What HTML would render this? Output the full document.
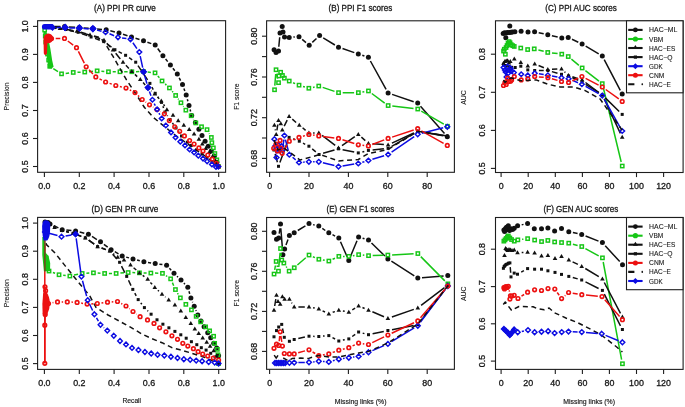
<!DOCTYPE html><html><head><meta charset="utf-8"><style>html,body{margin:0;padding:0;background:#fff;}svg{display:block;will-change:transform;}text{font-family:"Liberation Sans",sans-serif;fill:#151515;stroke:#1a1a1a;stroke-width:0.3px;}</style></head><body>
<svg width="685" height="407" viewBox="0 0 685 407">
<rect width="685" height="407" fill="#fff"/>
<text x="94" y="10.6" font-size="8.6" textLength="61.9" lengthAdjust="spacingAndGlyphs">(A) PPI PR curve</text>
<text x="328.6" y="10.5" font-size="8.6" textLength="63.6" lengthAdjust="spacingAndGlyphs">(B) PPI F1 scores</text>
<text x="545.3" y="10.6" font-size="8.6" textLength="71.5" lengthAdjust="spacingAndGlyphs">(C) PPI AUC scores</text>
<text x="91.6" y="211.7" font-size="8.6" textLength="66.8" lengthAdjust="spacingAndGlyphs">(D) GEN PR curve</text>
<text x="326.5" y="211.7" font-size="8.6" textLength="67.7" lengthAdjust="spacingAndGlyphs">(E) GEN F1 scores</text>
<text x="543.6" y="211.7" font-size="8.6" textLength="74.6" lengthAdjust="spacingAndGlyphs">(F) GEN AUC scores</text>
<text transform="translate(8.7 96.4) rotate(-90)" font-size="6.8" text-anchor="middle" style="stroke-width:0.12px;fill:#222">Precision</text>
<text transform="translate(8.7 293.2) rotate(-90)" font-size="6.8" text-anchor="middle" style="stroke-width:0.12px;fill:#222">Precision</text>
<text transform="translate(238.9 96.6) rotate(-90)" font-size="6.8" text-anchor="middle" style="stroke-width:0.12px;fill:#222">F1 score</text>
<text transform="translate(238.9 293.2) rotate(-90)" font-size="6.8" text-anchor="middle" style="stroke-width:0.12px;fill:#222">F1 score</text>
<text transform="translate(466.2 97.5) rotate(-90)" font-size="6.8" text-anchor="middle" style="stroke-width:0.12px;fill:#222">AUC</text>
<text transform="translate(466.2 293.8) rotate(-90)" font-size="6.8" text-anchor="middle" style="stroke-width:0.12px;fill:#222">AUC</text>
<text x="131.8" y="403.2" font-size="6.7" text-anchor="middle" style="stroke-width:0.15px">Recall</text>
<text x="360.6" y="403.7" font-size="6.9" text-anchor="middle" style="stroke-width:0.15px">Missing links (%)</text>
<text x="589.2" y="403.7" font-size="6.9" text-anchor="middle" style="stroke-width:0.15px">Missing links (%)</text>
<rect x="37.6" y="20.7" width="188" height="151.6" fill="none" stroke="#1e1e1e" stroke-width="1.1"/>
<line x1="44.4" y1="172.3" x2="44.4" y2="176.9" stroke="#1e1e1e" stroke-width="1.1"/>
<text x="44.4" y="188.6" font-size="8.9" text-anchor="middle">0.0</text>
<line x1="79.3" y1="172.3" x2="79.3" y2="176.9" stroke="#1e1e1e" stroke-width="1.1"/>
<text x="79.3" y="188.6" font-size="8.9" text-anchor="middle">0.2</text>
<line x1="114.1" y1="172.3" x2="114.1" y2="176.9" stroke="#1e1e1e" stroke-width="1.1"/>
<text x="114.1" y="188.6" font-size="8.9" text-anchor="middle">0.4</text>
<line x1="149" y1="172.3" x2="149" y2="176.9" stroke="#1e1e1e" stroke-width="1.1"/>
<text x="149" y="188.6" font-size="8.9" text-anchor="middle">0.6</text>
<line x1="183.8" y1="172.3" x2="183.8" y2="176.9" stroke="#1e1e1e" stroke-width="1.1"/>
<text x="183.8" y="188.6" font-size="8.9" text-anchor="middle">0.8</text>
<line x1="218.7" y1="172.3" x2="218.7" y2="176.9" stroke="#1e1e1e" stroke-width="1.1"/>
<text x="218.7" y="188.6" font-size="8.9" text-anchor="middle">1.0</text>
<line x1="33" y1="166.5" x2="37.6" y2="166.5" stroke="#1e1e1e" stroke-width="1.1"/>
<text transform="translate(27.5 166.5) rotate(-90)" font-size="8.9" text-anchor="middle">0.5</text>
<line x1="33" y1="138.5" x2="37.6" y2="138.5" stroke="#1e1e1e" stroke-width="1.1"/>
<text transform="translate(27.5 138.5) rotate(-90)" font-size="8.9" text-anchor="middle">0.6</text>
<line x1="33" y1="110.5" x2="37.6" y2="110.5" stroke="#1e1e1e" stroke-width="1.1"/>
<text transform="translate(27.5 110.5) rotate(-90)" font-size="8.9" text-anchor="middle">0.7</text>
<line x1="33" y1="82.4" x2="37.6" y2="82.4" stroke="#1e1e1e" stroke-width="1.1"/>
<text transform="translate(27.5 82.4) rotate(-90)" font-size="8.9" text-anchor="middle">0.8</text>
<line x1="33" y1="54.4" x2="37.6" y2="54.4" stroke="#1e1e1e" stroke-width="1.1"/>
<text transform="translate(27.5 54.4) rotate(-90)" font-size="8.9" text-anchor="middle">0.9</text>
<line x1="33" y1="26.4" x2="37.6" y2="26.4" stroke="#1e1e1e" stroke-width="1.1"/>
<text transform="translate(27.5 26.4) rotate(-90)" font-size="8.9" text-anchor="middle">1.0</text>
<rect x="37.6" y="217.4" width="188" height="152" fill="none" stroke="#1e1e1e" stroke-width="1.1"/>
<line x1="44.4" y1="369.4" x2="44.4" y2="374" stroke="#1e1e1e" stroke-width="1.1"/>
<text x="44.4" y="385.7" font-size="8.9" text-anchor="middle">0.0</text>
<line x1="79.3" y1="369.4" x2="79.3" y2="374" stroke="#1e1e1e" stroke-width="1.1"/>
<text x="79.3" y="385.7" font-size="8.9" text-anchor="middle">0.2</text>
<line x1="114.1" y1="369.4" x2="114.1" y2="374" stroke="#1e1e1e" stroke-width="1.1"/>
<text x="114.1" y="385.7" font-size="8.9" text-anchor="middle">0.4</text>
<line x1="149" y1="369.4" x2="149" y2="374" stroke="#1e1e1e" stroke-width="1.1"/>
<text x="149" y="385.7" font-size="8.9" text-anchor="middle">0.6</text>
<line x1="183.8" y1="369.4" x2="183.8" y2="374" stroke="#1e1e1e" stroke-width="1.1"/>
<text x="183.8" y="385.7" font-size="8.9" text-anchor="middle">0.8</text>
<line x1="218.7" y1="369.4" x2="218.7" y2="374" stroke="#1e1e1e" stroke-width="1.1"/>
<text x="218.7" y="385.7" font-size="8.9" text-anchor="middle">1.0</text>
<line x1="33" y1="363.6" x2="37.6" y2="363.6" stroke="#1e1e1e" stroke-width="1.1"/>
<text transform="translate(27.5 363.6) rotate(-90)" font-size="8.9" text-anchor="middle">0.5</text>
<line x1="33" y1="335.5" x2="37.6" y2="335.5" stroke="#1e1e1e" stroke-width="1.1"/>
<text transform="translate(27.5 335.5) rotate(-90)" font-size="8.9" text-anchor="middle">0.6</text>
<line x1="33" y1="307.4" x2="37.6" y2="307.4" stroke="#1e1e1e" stroke-width="1.1"/>
<text transform="translate(27.5 307.4) rotate(-90)" font-size="8.9" text-anchor="middle">0.7</text>
<line x1="33" y1="279.3" x2="37.6" y2="279.3" stroke="#1e1e1e" stroke-width="1.1"/>
<text transform="translate(27.5 279.3) rotate(-90)" font-size="8.9" text-anchor="middle">0.8</text>
<line x1="33" y1="251.2" x2="37.6" y2="251.2" stroke="#1e1e1e" stroke-width="1.1"/>
<text transform="translate(27.5 251.2) rotate(-90)" font-size="8.9" text-anchor="middle">0.9</text>
<line x1="33" y1="223.1" x2="37.6" y2="223.1" stroke="#1e1e1e" stroke-width="1.1"/>
<text transform="translate(27.5 223.1) rotate(-90)" font-size="8.9" text-anchor="middle">1.0</text>
<rect x="266.6" y="20.8" width="187.8" height="151.5" fill="none" stroke="#1e1e1e" stroke-width="1.1"/>
<line x1="269.6" y1="172.3" x2="269.6" y2="176.9" stroke="#1e1e1e" stroke-width="1.1"/>
<text x="269.6" y="188.6" font-size="8.9" text-anchor="middle">0</text>
<line x1="309" y1="172.3" x2="309" y2="176.9" stroke="#1e1e1e" stroke-width="1.1"/>
<text x="309" y="188.6" font-size="8.9" text-anchor="middle">20</text>
<line x1="348.4" y1="172.3" x2="348.4" y2="176.9" stroke="#1e1e1e" stroke-width="1.1"/>
<text x="348.4" y="188.6" font-size="8.9" text-anchor="middle">40</text>
<line x1="387.8" y1="172.3" x2="387.8" y2="176.9" stroke="#1e1e1e" stroke-width="1.1"/>
<text x="387.8" y="188.6" font-size="8.9" text-anchor="middle">60</text>
<line x1="427.2" y1="172.3" x2="427.2" y2="176.9" stroke="#1e1e1e" stroke-width="1.1"/>
<text x="427.2" y="188.6" font-size="8.9" text-anchor="middle">80</text>
<line x1="262" y1="158.4" x2="266.6" y2="158.4" stroke="#1e1e1e" stroke-width="1.1"/>
<text transform="translate(256.6 158.4) rotate(-90)" font-size="8.9" text-anchor="middle">0.68</text>
<line x1="262" y1="138" x2="266.6" y2="138" stroke="#1e1e1e" stroke-width="1.1"/>
<line x1="262" y1="117.7" x2="266.6" y2="117.7" stroke="#1e1e1e" stroke-width="1.1"/>
<text transform="translate(256.6 117.7) rotate(-90)" font-size="8.9" text-anchor="middle">0.72</text>
<line x1="262" y1="97.3" x2="266.6" y2="97.3" stroke="#1e1e1e" stroke-width="1.1"/>
<line x1="262" y1="77" x2="266.6" y2="77" stroke="#1e1e1e" stroke-width="1.1"/>
<text transform="translate(256.6 77) rotate(-90)" font-size="8.9" text-anchor="middle">0.76</text>
<line x1="262" y1="56.6" x2="266.6" y2="56.6" stroke="#1e1e1e" stroke-width="1.1"/>
<line x1="262" y1="36.2" x2="266.6" y2="36.2" stroke="#1e1e1e" stroke-width="1.1"/>
<text transform="translate(256.6 36.2) rotate(-90)" font-size="8.9" text-anchor="middle">0.80</text>
<rect x="266.6" y="217.5" width="187.8" height="151.8" fill="none" stroke="#1e1e1e" stroke-width="1.1"/>
<line x1="269.6" y1="369.3" x2="269.6" y2="373.9" stroke="#1e1e1e" stroke-width="1.1"/>
<text x="269.6" y="385.6" font-size="8.9" text-anchor="middle">0</text>
<line x1="309" y1="369.3" x2="309" y2="373.9" stroke="#1e1e1e" stroke-width="1.1"/>
<text x="309" y="385.6" font-size="8.9" text-anchor="middle">20</text>
<line x1="348.4" y1="369.3" x2="348.4" y2="373.9" stroke="#1e1e1e" stroke-width="1.1"/>
<text x="348.4" y="385.6" font-size="8.9" text-anchor="middle">40</text>
<line x1="387.8" y1="369.3" x2="387.8" y2="373.9" stroke="#1e1e1e" stroke-width="1.1"/>
<text x="387.8" y="385.6" font-size="8.9" text-anchor="middle">60</text>
<line x1="427.2" y1="369.3" x2="427.2" y2="373.9" stroke="#1e1e1e" stroke-width="1.1"/>
<text x="427.2" y="385.6" font-size="8.9" text-anchor="middle">80</text>
<line x1="262" y1="351.4" x2="266.6" y2="351.4" stroke="#1e1e1e" stroke-width="1.1"/>
<text transform="translate(256.6 351.4) rotate(-90)" font-size="8.9" text-anchor="middle">0.68</text>
<line x1="262" y1="331.4" x2="266.6" y2="331.4" stroke="#1e1e1e" stroke-width="1.1"/>
<line x1="262" y1="311.4" x2="266.6" y2="311.4" stroke="#1e1e1e" stroke-width="1.1"/>
<text transform="translate(256.6 311.4) rotate(-90)" font-size="8.9" text-anchor="middle">0.72</text>
<line x1="262" y1="291.3" x2="266.6" y2="291.3" stroke="#1e1e1e" stroke-width="1.1"/>
<line x1="262" y1="271.3" x2="266.6" y2="271.3" stroke="#1e1e1e" stroke-width="1.1"/>
<text transform="translate(256.6 271.3) rotate(-90)" font-size="8.9" text-anchor="middle">0.76</text>
<line x1="262" y1="251.3" x2="266.6" y2="251.3" stroke="#1e1e1e" stroke-width="1.1"/>
<line x1="262" y1="231.3" x2="266.6" y2="231.3" stroke="#1e1e1e" stroke-width="1.1"/>
<text transform="translate(256.6 231.3) rotate(-90)" font-size="8.9" text-anchor="middle">0.80</text>
<rect x="495.5" y="20.8" width="187.6" height="151.7" fill="none" stroke="#1e1e1e" stroke-width="1.1"/>
<line x1="501.1" y1="172.5" x2="501.1" y2="177.1" stroke="#1e1e1e" stroke-width="1.1"/>
<text x="501.1" y="188.8" font-size="8.9" text-anchor="middle">0</text>
<line x1="528.2" y1="172.5" x2="528.2" y2="177.1" stroke="#1e1e1e" stroke-width="1.1"/>
<text x="528.2" y="188.8" font-size="8.9" text-anchor="middle">20</text>
<line x1="555.3" y1="172.5" x2="555.3" y2="177.1" stroke="#1e1e1e" stroke-width="1.1"/>
<text x="555.3" y="188.8" font-size="8.9" text-anchor="middle">40</text>
<line x1="582.4" y1="172.5" x2="582.4" y2="177.1" stroke="#1e1e1e" stroke-width="1.1"/>
<text x="582.4" y="188.8" font-size="8.9" text-anchor="middle">60</text>
<line x1="609.4" y1="172.5" x2="609.4" y2="177.1" stroke="#1e1e1e" stroke-width="1.1"/>
<text x="609.4" y="188.8" font-size="8.9" text-anchor="middle">80</text>
<line x1="636.5" y1="172.5" x2="636.5" y2="177.1" stroke="#1e1e1e" stroke-width="1.1"/>
<text x="636.5" y="188.8" font-size="8.9" text-anchor="middle">100</text>
<line x1="663.6" y1="172.5" x2="663.6" y2="177.1" stroke="#1e1e1e" stroke-width="1.1"/>
<text x="663.6" y="188.8" font-size="8.9" text-anchor="middle">120</text>
<line x1="490.9" y1="168.4" x2="495.5" y2="168.4" stroke="#1e1e1e" stroke-width="1.1"/>
<text transform="translate(484.5 168.4) rotate(-90)" font-size="8.9" text-anchor="middle">0.5</text>
<line x1="490.9" y1="130.4" x2="495.5" y2="130.4" stroke="#1e1e1e" stroke-width="1.1"/>
<text transform="translate(484.5 130.4) rotate(-90)" font-size="8.9" text-anchor="middle">0.6</text>
<line x1="490.9" y1="92.3" x2="495.5" y2="92.3" stroke="#1e1e1e" stroke-width="1.1"/>
<text transform="translate(484.5 92.3) rotate(-90)" font-size="8.9" text-anchor="middle">0.7</text>
<line x1="490.9" y1="54.2" x2="495.5" y2="54.2" stroke="#1e1e1e" stroke-width="1.1"/>
<text transform="translate(484.5 54.2) rotate(-90)" font-size="8.9" text-anchor="middle">0.8</text>
<rect x="495.5" y="217.5" width="187.6" height="151.9" fill="none" stroke="#1e1e1e" stroke-width="1.1"/>
<line x1="501.1" y1="369.4" x2="501.1" y2="374" stroke="#1e1e1e" stroke-width="1.1"/>
<text x="501.1" y="385.7" font-size="8.9" text-anchor="middle">0</text>
<line x1="528.2" y1="369.4" x2="528.2" y2="374" stroke="#1e1e1e" stroke-width="1.1"/>
<text x="528.2" y="385.7" font-size="8.9" text-anchor="middle">20</text>
<line x1="555.3" y1="369.4" x2="555.3" y2="374" stroke="#1e1e1e" stroke-width="1.1"/>
<text x="555.3" y="385.7" font-size="8.9" text-anchor="middle">40</text>
<line x1="582.4" y1="369.4" x2="582.4" y2="374" stroke="#1e1e1e" stroke-width="1.1"/>
<text x="582.4" y="385.7" font-size="8.9" text-anchor="middle">60</text>
<line x1="609.4" y1="369.4" x2="609.4" y2="374" stroke="#1e1e1e" stroke-width="1.1"/>
<text x="609.4" y="385.7" font-size="8.9" text-anchor="middle">80</text>
<line x1="636.5" y1="369.4" x2="636.5" y2="374" stroke="#1e1e1e" stroke-width="1.1"/>
<text x="636.5" y="385.7" font-size="8.9" text-anchor="middle">100</text>
<line x1="663.6" y1="369.4" x2="663.6" y2="374" stroke="#1e1e1e" stroke-width="1.1"/>
<text x="663.6" y="385.7" font-size="8.9" text-anchor="middle">120</text>
<line x1="490.9" y1="361.1" x2="495.5" y2="361.1" stroke="#1e1e1e" stroke-width="1.1"/>
<text transform="translate(484.5 361.1) rotate(-90)" font-size="8.9" text-anchor="middle">0.5</text>
<line x1="490.9" y1="323.8" x2="495.5" y2="323.8" stroke="#1e1e1e" stroke-width="1.1"/>
<text transform="translate(484.5 323.8) rotate(-90)" font-size="8.9" text-anchor="middle">0.6</text>
<line x1="490.9" y1="286.6" x2="495.5" y2="286.6" stroke="#1e1e1e" stroke-width="1.1"/>
<text transform="translate(484.5 286.6) rotate(-90)" font-size="8.9" text-anchor="middle">0.7</text>
<line x1="490.9" y1="249.2" x2="495.5" y2="249.2" stroke="#1e1e1e" stroke-width="1.1"/>
<text transform="translate(484.5 249.2) rotate(-90)" font-size="8.9" text-anchor="middle">0.8</text>
<path d="M54.2 26.5L60.4 26.5M68.8 26.9L75.1 27.3M83.5 27.9L88.7 28.2M97.1 28.9L102 29.4M110.3 30.8L114.9 31.9M123 34.2L127.5 35.8M135.5 38.3L139.5 39.5M147.4 42.2L151.3 43.6M157.7 48.5L160.4 52.3M165.6 59L167.7 61.6M172.9 68.2L174.8 70.7M179.2 77.8L180.6 80.6M183.9 88.4L184.8 91.1M187.3 99.2L187.9 101.3M190.1 109.5L190.6 111.5" fill="none" stroke="#111" stroke-width="1.5"/>
<circle cx="50" cy="26.4" r="2.5" fill="#111"/>
<circle cx="64.6" cy="26.6" r="2.5" fill="#111"/>
<circle cx="79.3" cy="27.6" r="2.5" fill="#111"/>
<circle cx="92.9" cy="28.5" r="2.5" fill="#111"/>
<circle cx="106.2" cy="29.8" r="2.5" fill="#111"/>
<circle cx="119" cy="32.9" r="2.5" fill="#111"/>
<circle cx="131.5" cy="37.1" r="2.5" fill="#111"/>
<circle cx="143.5" cy="40.7" r="2.5" fill="#111"/>
<circle cx="155.2" cy="45.1" r="2.5" fill="#111"/>
<circle cx="162.9" cy="55.7" r="2.5" fill="#111"/>
<circle cx="170.4" cy="64.9" r="2.5" fill="#111"/>
<circle cx="177.3" cy="74" r="2.5" fill="#111"/>
<circle cx="182.5" cy="84.4" r="2.5" fill="#111"/>
<circle cx="186.2" cy="95.1" r="2.5" fill="#111"/>
<circle cx="189" cy="105.4" r="2.5" fill="#111"/>
<circle cx="191.7" cy="115.6" r="2.5" fill="#111"/>
<circle cx="195.4" cy="122.6" r="2.5" fill="#111"/>
<circle cx="198.9" cy="129.3" r="2.5" fill="#111"/>
<circle cx="202" cy="135.5" r="2.5" fill="#111"/>
<circle cx="205.1" cy="141.2" r="2.5" fill="#111"/>
<circle cx="208.2" cy="146.2" r="2.5" fill="#111"/>
<circle cx="211.3" cy="151" r="2.5" fill="#111"/>
<circle cx="214.4" cy="156.1" r="2.5" fill="#111"/>
<circle cx="216.9" cy="162.3" r="2.5" fill="#111"/>
<circle cx="218.4" cy="166.5" r="2.5" fill="#111"/>
<path d="M53.3 68.6L58 71.6M65.7 73.4L69.1 72.9M77.5 72.3L80.6 72.2M89 71.7L93 71.3M101.4 71.2L104.3 71.5M112.7 71.8L115.8 71.8M124.2 71.8L127.6 71.8M136 71.7L139.3 71.6M147.7 72L150.9 72.4M157.8 76.1L159.4 77.8M165.2 83.9L166.4 85.1M172.2 91.2L173 92.2M178.1 98.8L178.6 99.4M183.3 106.3L183.6 106.7M193.5 119.3L193.5 119.5M209.1 133.4L209.3 133.8" fill="none" stroke="#16c616" stroke-width="1.5"/>
<rect x="43" y="28.4" width="3.3" height="3.3" fill="none" stroke="#16c616" stroke-width="1.45"/>
<rect x="43.6" y="34.4" width="3.3" height="3.3" fill="none" stroke="#16c616" stroke-width="1.45"/>
<rect x="44.1" y="40.4" width="3.3" height="3.3" fill="none" stroke="#16c616" stroke-width="1.45"/>
<rect x="45" y="46.4" width="3.3" height="3.3" fill="none" stroke="#16c616" stroke-width="1.45"/>
<rect x="45.9" y="52.4" width="3.3" height="3.3" fill="none" stroke="#16c616" stroke-width="1.45"/>
<rect x="47" y="58.4" width="3.3" height="3.3" fill="none" stroke="#16c616" stroke-width="1.45"/>
<rect x="48.1" y="64.6" width="3.3" height="3.3" fill="none" stroke="#16c616" stroke-width="1.45"/>
<rect x="59.9" y="72.2" width="3.3" height="3.3" fill="none" stroke="#16c616" stroke-width="1.45"/>
<rect x="71.6" y="70.8" width="3.3" height="3.3" fill="none" stroke="#16c616" stroke-width="1.45"/>
<rect x="83.1" y="70.4" width="3.3" height="3.3" fill="none" stroke="#16c616" stroke-width="1.45"/>
<rect x="95.5" y="69.2" width="3.3" height="3.3" fill="none" stroke="#16c616" stroke-width="1.45"/>
<rect x="106.8" y="70.1" width="3.3" height="3.3" fill="none" stroke="#16c616" stroke-width="1.45"/>
<rect x="118.3" y="70.1" width="3.3" height="3.3" fill="none" stroke="#16c616" stroke-width="1.45"/>
<rect x="130.2" y="70.1" width="3.3" height="3.3" fill="none" stroke="#16c616" stroke-width="1.45"/>
<rect x="141.8" y="69.8" width="3.3" height="3.3" fill="none" stroke="#16c616" stroke-width="1.45"/>
<rect x="153.4" y="71.2" width="3.3" height="3.3" fill="none" stroke="#16c616" stroke-width="1.45"/>
<rect x="160.4" y="79.3" width="3.3" height="3.3" fill="none" stroke="#16c616" stroke-width="1.45"/>
<rect x="167.8" y="86.3" width="3.3" height="3.3" fill="none" stroke="#16c616" stroke-width="1.45"/>
<rect x="174" y="93.8" width="3.3" height="3.3" fill="none" stroke="#16c616" stroke-width="1.45"/>
<rect x="179.3" y="101.1" width="3.3" height="3.3" fill="none" stroke="#16c616" stroke-width="1.45"/>
<rect x="184.2" y="108.5" width="3.3" height="3.3" fill="none" stroke="#16c616" stroke-width="1.45"/>
<rect x="189.5" y="114.1" width="3.3" height="3.3" fill="none" stroke="#16c616" stroke-width="1.45"/>
<rect x="194.2" y="121.3" width="3.3" height="3.3" fill="none" stroke="#16c616" stroke-width="1.45"/>
<rect x="199.9" y="125.1" width="3.3" height="3.3" fill="none" stroke="#16c616" stroke-width="1.45"/>
<rect x="205.4" y="128" width="3.3" height="3.3" fill="none" stroke="#16c616" stroke-width="1.45"/>
<rect x="209.7" y="135.8" width="3.3" height="3.3" fill="none" stroke="#16c616" stroke-width="1.45"/>
<rect x="210.2" y="141" width="3.3" height="3.3" fill="none" stroke="#16c616" stroke-width="1.45"/>
<rect x="211.7" y="146.2" width="3.3" height="3.3" fill="none" stroke="#16c616" stroke-width="1.45"/>
<rect x="213.2" y="151.9" width="3.3" height="3.3" fill="none" stroke="#16c616" stroke-width="1.45"/>
<rect x="215.2" y="158.2" width="3.3" height="3.3" fill="none" stroke="#16c616" stroke-width="1.45"/>
<rect x="216.8" y="164.8" width="3.3" height="3.3" fill="none" stroke="#16c616" stroke-width="1.45"/>
<path d="M64.2 29.1L72.7 30.5M80.9 32.3L86 33.8M93.9 36.4L100.1 38.7M106.8 43.2L110.2 46.9M115.7 53.2L120.3 59M125.9 65.3L128.9 68.4M134.9 74.4L137.2 76.6M143.1 82.6L145.2 84.9M151.2 90.8L151.6 91.1M157.7 97L158.4 97.8M163.6 104.4L164.6 106.1" fill="none" stroke="#111" stroke-width="1.5"/>
<path d="M52 24.6L54.3 28.6L49.7 28.6Z" fill="#111"/>
<path d="M60 26.1L62.3 30.1L57.7 30.1Z" fill="#111"/>
<path d="M76.9 28.7L79.2 32.7L74.6 32.7Z" fill="#111"/>
<path d="M90 32.6L92.3 36.6L87.7 36.6Z" fill="#111"/>
<path d="M104 37.7L106.3 41.7L101.7 41.7Z" fill="#111"/>
<path d="M113 47.6L115.3 51.6L110.7 51.6Z" fill="#111"/>
<path d="M123 59.8L125.3 63.8L120.7 63.8Z" fill="#111"/>
<path d="M131.8 69.1L134.1 73.1L129.5 73.1Z" fill="#111"/>
<path d="M140.3 77.1L142.6 81.1L138 81.1Z" fill="#111"/>
<path d="M148 85.6L150.3 89.6L145.7 89.6Z" fill="#111"/>
<path d="M154.8 91.5L157.1 95.5L152.5 95.5Z" fill="#111"/>
<path d="M161.3 98.5L163.6 102.5L159 102.5Z" fill="#111"/>
<path d="M166.9 107.2L169.2 111.2L164.6 111.2Z" fill="#111"/>
<path d="M173 112.8L175.3 116.8L170.7 116.8Z" fill="#111"/>
<path d="M178.2 118.2L180.5 122.2L175.9 122.2Z" fill="#111"/>
<path d="M183.8 122.7L186.1 126.7L181.5 126.7Z" fill="#111"/>
<path d="M189.2 126.9L191.5 130.9L186.9 130.9Z" fill="#111"/>
<path d="M194.1 131.4L196.4 135.4L191.8 135.4Z" fill="#111"/>
<path d="M198.9 136.8L201.2 140.8L196.6 140.8Z" fill="#111"/>
<path d="M202.3 141.4L204.6 145.4L200 145.4Z" fill="#111"/>
<path d="M205.7 145.9L208 149.9L203.4 149.9Z" fill="#111"/>
<path d="M209.2 150.1L211.5 154.1L206.9 154.1Z" fill="#111"/>
<path d="M212.5 154.1L214.8 158.1L210.2 158.1Z" fill="#111"/>
<path d="M215.5 158.6L217.8 162.6L213.2 162.6Z" fill="#111"/>
<path d="M218.4 164.1L220.7 168.1L216.1 168.1Z" fill="#111"/>
<path d="M58.8 28.3L61.9 28.8M70.1 30.4L74 31.4M82 33.7L87.2 35.6M95 38.4L99.8 40.2M107.1 44.1L111.5 47.2M118.6 51.6L121.9 53.4M129.1 57.7L132.2 59.8M138 65.7L147.6 79.9M151.9 87.1L153.2 89.6M157.6 96.8L159.1 98.9M162.9 106.3L163.6 108.1M167.3 115.5L167.7 116M172.4 122.9L173.6 124.6M178.4 131.5L179.1 132.5M184.4 139L184.5 139.2" fill="none" stroke="#111" stroke-width="1.5"/>
<rect x="53.2" y="26.1" width="3" height="3" fill="#111"/>
<rect x="64.5" y="28" width="3" height="3" fill="#111"/>
<rect x="76.6" y="30.8" width="3" height="3" fill="#111"/>
<rect x="89.6" y="35.5" width="3" height="3" fill="#111"/>
<rect x="102.2" y="40.1" width="3" height="3" fill="#111"/>
<rect x="113.4" y="48.2" width="3" height="3" fill="#111"/>
<rect x="124.1" y="53.8" width="3" height="3" fill="#111"/>
<rect x="134.2" y="60.7" width="3" height="3" fill="#111"/>
<rect x="148.4" y="81.9" width="3" height="3" fill="#111"/>
<rect x="153.7" y="91.8" width="3" height="3" fill="#111"/>
<rect x="160" y="100.9" width="3" height="3" fill="#111"/>
<rect x="163.5" y="110.5" width="3" height="3" fill="#111"/>
<rect x="168.5" y="118" width="3" height="3" fill="#111"/>
<rect x="174.5" y="126.5" width="3" height="3" fill="#111"/>
<rect x="180" y="134.5" width="3" height="3" fill="#111"/>
<rect x="185.9" y="140.7" width="3" height="3" fill="#111"/>
<rect x="189.7" y="143.9" width="3" height="3" fill="#111"/>
<rect x="195.1" y="148.4" width="3" height="3" fill="#111"/>
<rect x="200.5" y="152.5" width="3" height="3" fill="#111"/>
<rect x="205.5" y="156.5" width="3" height="3" fill="#111"/>
<rect x="210.5" y="160.5" width="3" height="3" fill="#111"/>
<rect x="216.9" y="165" width="3" height="3" fill="#111"/>
<path d="M52 27L60 28.5L80 32.5L92 35.5L100 37.5L104.4 42.4L113.2 56.7L126.5 79.9L135.3 93L144.5 107.5L153.7 117.7L165 127L175 135L185 142L195 149L205 156L212 161L218.4 166.5" fill="none" stroke="#111" stroke-width="1.5" stroke-dasharray="5 3.6" stroke-linejoin="round"/>
<path d="M55.7 38.5L60.3 38.4M67.8 41L73.2 45.1M78.4 51.4L84.3 63.1M89.1 69.8L92.9 73.9M99.5 78.8L101.9 80.1M109.6 83.4L111.8 84.1M119.9 86.5L121.9 87.1M129.8 90L131.2 90.7M138 95.5L139.2 96.6M145.6 102L146.1 102.3M153.1 107L153.4 107.3M160.6 111.6L160.8 111.7" fill="none" stroke="#ec1010" stroke-width="1.5"/>
<circle cx="51.5" cy="38.5" r="1.8" fill="none" stroke="#ec1010" stroke-width="1.6"/>
<circle cx="64.5" cy="38.4" r="1.8" fill="none" stroke="#ec1010" stroke-width="1.6"/>
<circle cx="76.5" cy="47.7" r="1.8" fill="none" stroke="#ec1010" stroke-width="1.6"/>
<circle cx="86.2" cy="66.8" r="1.8" fill="none" stroke="#ec1010" stroke-width="1.6"/>
<circle cx="95.8" cy="76.9" r="1.8" fill="none" stroke="#ec1010" stroke-width="1.6"/>
<circle cx="105.6" cy="82" r="1.8" fill="none" stroke="#ec1010" stroke-width="1.6"/>
<circle cx="115.8" cy="85.5" r="1.8" fill="none" stroke="#ec1010" stroke-width="1.6"/>
<circle cx="126" cy="88.1" r="1.8" fill="none" stroke="#ec1010" stroke-width="1.6"/>
<circle cx="135" cy="92.6" r="1.8" fill="none" stroke="#ec1010" stroke-width="1.6"/>
<circle cx="142.2" cy="99.5" r="1.8" fill="none" stroke="#ec1010" stroke-width="1.6"/>
<circle cx="149.5" cy="104.8" r="1.8" fill="none" stroke="#ec1010" stroke-width="1.6"/>
<circle cx="157" cy="109.5" r="1.8" fill="none" stroke="#ec1010" stroke-width="1.6"/>
<circle cx="164.4" cy="113.8" r="1.8" fill="none" stroke="#ec1010" stroke-width="1.6"/>
<circle cx="169.3" cy="120.6" r="1.8" fill="none" stroke="#ec1010" stroke-width="1.6"/>
<circle cx="174.7" cy="126.8" r="1.8" fill="none" stroke="#ec1010" stroke-width="1.6"/>
<circle cx="179.7" cy="131.3" r="1.8" fill="none" stroke="#ec1010" stroke-width="1.6"/>
<circle cx="184.4" cy="135.9" r="1.8" fill="none" stroke="#ec1010" stroke-width="1.6"/>
<circle cx="189.6" cy="140.6" r="1.8" fill="none" stroke="#ec1010" stroke-width="1.6"/>
<circle cx="194.1" cy="144.1" r="1.8" fill="none" stroke="#ec1010" stroke-width="1.6"/>
<circle cx="198.9" cy="147.9" r="1.8" fill="none" stroke="#ec1010" stroke-width="1.6"/>
<circle cx="203" cy="151" r="1.8" fill="none" stroke="#ec1010" stroke-width="1.6"/>
<circle cx="207.8" cy="155.1" r="1.8" fill="none" stroke="#ec1010" stroke-width="1.6"/>
<circle cx="212.3" cy="159.2" r="1.8" fill="none" stroke="#ec1010" stroke-width="1.6"/>
<circle cx="216.4" cy="163.3" r="1.8" fill="none" stroke="#ec1010" stroke-width="1.6"/>
<circle cx="218.4" cy="166.5" r="1.8" fill="none" stroke="#ec1010" stroke-width="1.6"/>
<path d="M65.1 27.4L79.4 27.9L92.9 28.6" fill="none" stroke="#0c0ce2" stroke-width="0" stroke-linejoin="round"/>
<path d="M65.1 24.6L67.9 27.4L65.1 30.2L62.3 27.4Z" fill="#0c0ce2" stroke="#0c0ce2" stroke-width="1.45"/>
<path d="M79.4 25.1L82.2 27.9L79.4 30.7L76.6 27.9Z" fill="#0c0ce2" stroke="#0c0ce2" stroke-width="1.45"/>
<path d="M92.9 25.8L95.7 28.6L92.9 31.4L90.1 28.6Z" fill="#0c0ce2" stroke="#0c0ce2" stroke-width="1.45"/>
<path d="M143.6 71.8L148 87.6" fill="none" stroke="#0c0ce2" stroke-width="0" stroke-linejoin="round"/>
<path d="M143.6 69.2L146.2 71.8L143.6 74.4L141 71.8Z" fill="#0c0ce2" stroke="#0c0ce2" stroke-width="1.45"/>
<path d="M148 85L150.6 87.6L148 90.2L145.4 87.6Z" fill="#0c0ce2" stroke="#0c0ce2" stroke-width="1.45"/>
<path d="M56.7 27.6L60.9 27.6M69.3 27.9L75.2 28.1M83.6 28.5L88.7 28.9M97 30.1L101.5 31.3M109.5 33.8L114.1 35.7M122.1 37.9L126.4 38.6M132.9 42.8L136.9 48.6M140.2 56.2L142.7 67.7M144.7 75.8L146.9 83.6M149.4 91.6L151 95.8M154.2 103.6L155.3 105.6M159 113.1L159.8 114.8M168.3 128.9L168.5 129" fill="none" stroke="#0c0ce2" stroke-width="1.5"/>
<path d="M52.5 25.1L54.9 27.5L52.5 29.9L50.1 27.5Z" fill="none" stroke="#0c0ce2" stroke-width="1.45"/>
<path d="M65.1 25.3L67.4 27.7L65.1 30.1L62.7 27.7Z" fill="none" stroke="#0c0ce2" stroke-width="1.45"/>
<path d="M79.4 25.9L81.8 28.3L79.4 30.7L77.1 28.3Z" fill="none" stroke="#0c0ce2" stroke-width="1.45"/>
<path d="M92.9 26.8L95.2 29.1L92.9 31.5L90.6 29.1Z" fill="none" stroke="#0c0ce2" stroke-width="1.45"/>
<path d="M105.6 29.9L107.9 32.3L105.6 34.6L103.2 32.3Z" fill="none" stroke="#0c0ce2" stroke-width="1.45"/>
<path d="M118 34.9L120.3 37.2L118 39.6L115.7 37.2Z" fill="none" stroke="#0c0ce2" stroke-width="1.45"/>
<path d="M130.5 36.9L132.8 39.3L130.5 41.6L128.2 39.3Z" fill="none" stroke="#0c0ce2" stroke-width="1.45"/>
<path d="M139.3 49.8L141.7 52.1L139.3 54.5L137 52.1Z" fill="none" stroke="#0c0ce2" stroke-width="1.45"/>
<path d="M143.6 69.5L145.9 71.8L143.6 74.1L141.2 71.8Z" fill="none" stroke="#0c0ce2" stroke-width="1.45"/>
<path d="M148 85.2L150.3 87.6L148 89.9L145.7 87.6Z" fill="none" stroke="#0c0ce2" stroke-width="1.45"/>
<path d="M152.4 97.5L154.8 99.8L152.4 102.1L150.1 99.8Z" fill="none" stroke="#0c0ce2" stroke-width="1.45"/>
<path d="M157.1 107.1L159.4 109.4L157.1 111.8L154.8 109.4Z" fill="none" stroke="#0c0ce2" stroke-width="1.45"/>
<path d="M161.7 116.2L164 118.5L161.7 120.8L159.3 118.5Z" fill="none" stroke="#0c0ce2" stroke-width="1.45"/>
<path d="M165.8 123.2L168.2 125.5L165.8 127.8L163.5 125.5Z" fill="none" stroke="#0c0ce2" stroke-width="1.45"/>
<path d="M171 130.1L173.3 132.4L171 134.8L168.7 132.4Z" fill="none" stroke="#0c0ce2" stroke-width="1.45"/>
<path d="M175.5 135.2L177.8 137.5L175.5 139.8L173.2 137.5Z" fill="none" stroke="#0c0ce2" stroke-width="1.45"/>
<path d="M180.3 139.3L182.7 141.7L180.3 144L178 141.7Z" fill="none" stroke="#0c0ce2" stroke-width="1.45"/>
<path d="M185 143.1L187.3 145.4L185 147.8L182.7 145.4Z" fill="none" stroke="#0c0ce2" stroke-width="1.45"/>
<path d="M189.6 147.2L191.9 149.5L189.6 151.8L187.2 149.5Z" fill="none" stroke="#0c0ce2" stroke-width="1.45"/>
<path d="M194.1 150.1L196.4 152.4L194.1 154.8L191.8 152.4Z" fill="none" stroke="#0c0ce2" stroke-width="1.45"/>
<path d="M198.3 153.3L200.7 155.7L198.3 158L196 155.7Z" fill="none" stroke="#0c0ce2" stroke-width="1.45"/>
<path d="M203 156.2L205.3 158.6L203 160.9L200.7 158.6Z" fill="none" stroke="#0c0ce2" stroke-width="1.45"/>
<path d="M207.1 159L209.4 161.3L207.1 163.7L204.8 161.3Z" fill="none" stroke="#0c0ce2" stroke-width="1.45"/>
<path d="M211.9 162.1L214.2 164.4L211.9 166.8L209.6 164.4Z" fill="none" stroke="#0c0ce2" stroke-width="1.45"/>
<path d="M216 164.6L218.3 166.9L216 169.2L213.7 166.9Z" fill="none" stroke="#0c0ce2" stroke-width="1.45"/>
<path d="M218.4 164.2L220.8 166.6L218.4 168.9L216.1 166.6Z" fill="none" stroke="#0c0ce2" stroke-width="1.45"/>
<path d="M43.4 31L46.2 31L48.6 40L50.3 48.3L52.2 60.6L53.6 66.8L51.5 68.6L48.3 68.2L47.3 60L46 50L44.6 42L43.4 35Z" fill="#16c616"/>
<path d="M48.4 33.6A4.8 4.8 0 1 1 48.39 33.6ZM43.5 38L47.6 38L47 53.5Q45.4 56.8 43.8 53.5Z" fill="#ec1010"/>
<path d="M44.5 23.9L51.5 23.9Q53.9 23.9 53.9 26.6L53.9 28.3Q53.6 30.2 51.5 29.6L44.5 29.6Q41.9 29.6 41.9 26.8Q41.9 23.9 44.5 23.9Z" fill="#0c0ce2"/>
<path d="M278.8 46.8L279.7 37.2M293.4 37.1L294.8 37M302.2 39.4L306 42.6M312.3 42.4L316.5 38.5M323.2 37.8L334.9 45M342.5 48.5L354.3 52.6M362.3 55.2L364.4 56M370.4 61L386.1 89.3M392.1 94.4L413.7 101.7M420.5 106.3L444.5 133.5" fill="none" stroke="#111" stroke-width="1.5"/>
<circle cx="274.1" cy="49.7" r="2.5" fill="#111"/>
<circle cx="276" cy="52.4" r="2.5" fill="#111"/>
<circle cx="278.5" cy="51" r="2.5" fill="#111"/>
<circle cx="280" cy="33" r="2.5" fill="#111"/>
<circle cx="282.2" cy="26.4" r="2.5" fill="#111"/>
<circle cx="283" cy="32" r="2.5" fill="#111"/>
<circle cx="284.5" cy="37.1" r="2.5" fill="#111"/>
<circle cx="289.2" cy="37.4" r="2.5" fill="#111"/>
<circle cx="299" cy="36.7" r="2.5" fill="#111"/>
<circle cx="309.2" cy="45.3" r="2.5" fill="#111"/>
<circle cx="319.6" cy="35.6" r="2.5" fill="#111"/>
<circle cx="338.5" cy="47.2" r="2.5" fill="#111"/>
<circle cx="358.3" cy="53.9" r="2.5" fill="#111"/>
<circle cx="368.4" cy="57.3" r="2.5" fill="#111"/>
<circle cx="388.1" cy="93" r="2.5" fill="#111"/>
<circle cx="417.7" cy="103.1" r="2.5" fill="#111"/>
<circle cx="447.3" cy="136.7" r="2.5" fill="#111"/>
<path d="M274.8 85.6L275.7 74M276.8 73.9L277.7 78.6M293.1 82.7L295.1 83.6M303 86.5L304.9 87M313 87.4L314.6 87M322.7 87.4L334.5 91.4M342.7 92.7L354.1 92.7M362.4 92L364.3 91.7M371.8 93.5L384.7 103.1M392.3 106.1L413.5 108.6M421.3 111.2L443.8 124.2" fill="none" stroke="#16c616" stroke-width="1.5"/>
<rect x="272.9" y="88.1" width="3.3" height="3.3" fill="none" stroke="#16c616" stroke-width="1.45"/>
<rect x="274.4" y="68.1" width="3.3" height="3.3" fill="none" stroke="#16c616" stroke-width="1.45"/>
<rect x="276.9" y="81" width="3.3" height="3.3" fill="none" stroke="#16c616" stroke-width="1.45"/>
<rect x="277.2" y="74.3" width="3.3" height="3.3" fill="none" stroke="#16c616" stroke-width="1.45"/>
<rect x="279" y="70.6" width="3.3" height="3.3" fill="none" stroke="#16c616" stroke-width="1.45"/>
<rect x="280.8" y="73.8" width="3.3" height="3.3" fill="none" stroke="#16c616" stroke-width="1.45"/>
<rect x="282.7" y="76.5" width="3.3" height="3.3" fill="none" stroke="#16c616" stroke-width="1.45"/>
<rect x="287.6" y="79.4" width="3.3" height="3.3" fill="none" stroke="#16c616" stroke-width="1.45"/>
<rect x="297.4" y="83.5" width="3.3" height="3.3" fill="none" stroke="#16c616" stroke-width="1.45"/>
<rect x="307.2" y="86.6" width="3.3" height="3.3" fill="none" stroke="#16c616" stroke-width="1.45"/>
<rect x="317.1" y="84.4" width="3.3" height="3.3" fill="none" stroke="#16c616" stroke-width="1.45"/>
<rect x="336.9" y="91" width="3.3" height="3.3" fill="none" stroke="#16c616" stroke-width="1.45"/>
<rect x="356.7" y="91" width="3.3" height="3.3" fill="none" stroke="#16c616" stroke-width="1.45"/>
<rect x="366.8" y="89.3" width="3.3" height="3.3" fill="none" stroke="#16c616" stroke-width="1.45"/>
<rect x="386.5" y="103.9" width="3.3" height="3.3" fill="none" stroke="#16c616" stroke-width="1.45"/>
<rect x="416.1" y="107.4" width="3.3" height="3.3" fill="none" stroke="#16c616" stroke-width="1.45"/>
<rect x="445.8" y="124.6" width="3.3" height="3.3" fill="none" stroke="#16c616" stroke-width="1.45"/>
<path d="M275.2 129.3L275.4 130.3M276.9 130.3L277.8 124.5M284.2 126.1L287.2 120.1M292.3 119.1L296.1 122.5M302.6 127.8L305.6 130.4M313.1 132.9L314.6 132.9M322.1 135.4L335.2 145.4M342 145.6L354.8 136.7M361.4 137.1L365.3 140.6M372.6 143.7L383.9 144.5M391.9 143.1L413.9 133M421.8 132L443.2 135.8" fill="none" stroke="#111" stroke-width="1.5"/>
<path d="M274.4 122.8L276.7 126.8L272.1 126.8Z" fill="#111"/>
<path d="M276.2 132L278.5 136L273.9 136Z" fill="#111"/>
<path d="M278.5 118L280.8 122L276.2 122Z" fill="#111"/>
<path d="M280.8 121.3L283.1 125.3L278.5 125.3Z" fill="#111"/>
<path d="M282.3 127.4L284.6 131.4L280 131.4Z" fill="#111"/>
<path d="M289.1 114L291.4 118L286.8 118Z" fill="#111"/>
<path d="M299.3 122.8L301.6 126.8L297 126.8Z" fill="#111"/>
<path d="M308.9 130.6L311.2 134.6L306.6 134.6Z" fill="#111"/>
<path d="M318.8 130.4L321.1 134.4L316.5 134.4Z" fill="#111"/>
<path d="M338.5 145.6L340.8 149.6L336.2 149.6Z" fill="#111"/>
<path d="M358.3 131.9L360.6 135.9L356 135.9Z" fill="#111"/>
<path d="M368.4 141L370.7 145L366.1 145Z" fill="#111"/>
<path d="M388.1 142.4L390.4 146.4L385.8 146.4Z" fill="#111"/>
<path d="M417.7 128.9L420 132.9L415.4 132.9Z" fill="#111"/>
<path d="M447.3 134.1L449.6 138.1L445 138.1Z" fill="#111"/>
<path d="M275.1 154L277.4 162.3M279.9 162.4L287.7 141.3M293 138.9L295.4 139.7M303 143.1L305.2 144.3M312.2 148.9L315.8 151.8M323.1 153.3L334.5 150M342.6 149.7L354.2 152M362.4 151.9L364.3 151.4M372.6 150L383.9 148.8M391.7 146.3L414.1 133.4M421.8 132L443.2 135.3" fill="none" stroke="#111" stroke-width="1.5"/>
<rect x="272.5" y="148.5" width="3" height="3" fill="#111"/>
<rect x="277" y="164.8" width="3" height="3" fill="#111"/>
<rect x="287.6" y="135.9" width="3" height="3" fill="#111"/>
<rect x="297.8" y="139.7" width="3" height="3" fill="#111"/>
<rect x="307.4" y="144.7" width="3" height="3" fill="#111"/>
<rect x="317.6" y="153" width="3" height="3" fill="#111"/>
<rect x="337" y="147.3" width="3" height="3" fill="#111"/>
<rect x="356.8" y="151.4" width="3" height="3" fill="#111"/>
<rect x="366.9" y="148.9" width="3" height="3" fill="#111"/>
<rect x="386.6" y="146.9" width="3" height="3" fill="#111"/>
<rect x="416.2" y="129.8" width="3" height="3" fill="#111"/>
<rect x="445.8" y="134.5" width="3" height="3" fill="#111"/>
<path d="M275.7 150.2L276.1 153.3M276.7 153.3L276.8 152.7M283 145.8L283.9 139.7M285.4 139.6L288.3 150.6M292.6 157.3L295.7 159.9M303.2 162.2L304.7 162.1M313.1 161.8L314.6 161.8M322.9 162.8L334.4 165.6M342.6 166L354.2 164.1M362.3 162.3L364.4 161.7M372.4 159.3L384.1 155.7M391.6 152.1L414.2 136.7M421.8 133.3L443.2 127.7" fill="none" stroke="#0c0ce2" stroke-width="1.5"/>
<path d="M274.4 136.8L276.8 139.2L274.4 141.5L272 139.2Z" fill="none" stroke="#0c0ce2" stroke-width="1.45"/>
<path d="M275.3 143.7L277.7 146L275.3 148.3L272.9 146Z" fill="none" stroke="#0c0ce2" stroke-width="1.45"/>
<path d="M276.5 155.2L278.9 157.5L276.5 159.8L274.1 157.5Z" fill="none" stroke="#0c0ce2" stroke-width="1.45"/>
<path d="M277 146.2L279.4 148.5L277 150.8L274.6 148.5Z" fill="none" stroke="#0c0ce2" stroke-width="1.45"/>
<path d="M278.3 142.7L280.7 145L278.3 147.3L275.9 145Z" fill="none" stroke="#0c0ce2" stroke-width="1.45"/>
<path d="M279.5 148.2L281.9 150.5L279.5 152.8L277.1 150.5Z" fill="none" stroke="#0c0ce2" stroke-width="1.45"/>
<path d="M281.5 143.8L283.9 146.1L281.5 148.4L279.1 146.1Z" fill="none" stroke="#0c0ce2" stroke-width="1.45"/>
<path d="M282.5 147.7L284.9 150L282.5 152.3L280.1 150Z" fill="none" stroke="#0c0ce2" stroke-width="1.45"/>
<path d="M284.4 133.2L286.8 135.5L284.4 137.8L282 135.5Z" fill="none" stroke="#0c0ce2" stroke-width="1.45"/>
<path d="M289.3 152.3L291.7 154.7L289.3 157L286.9 154.7Z" fill="none" stroke="#0c0ce2" stroke-width="1.45"/>
<path d="M299 160.2L301.4 162.5L299 164.8L296.6 162.5Z" fill="none" stroke="#0c0ce2" stroke-width="1.45"/>
<path d="M308.9 159.5L311.2 161.8L308.9 164.2L306.5 161.8Z" fill="none" stroke="#0c0ce2" stroke-width="1.45"/>
<path d="M318.8 159.5L321.2 161.8L318.8 164.2L316.4 161.8Z" fill="none" stroke="#0c0ce2" stroke-width="1.45"/>
<path d="M338.5 164.2L340.9 166.6L338.5 168.9L336.1 166.6Z" fill="none" stroke="#0c0ce2" stroke-width="1.45"/>
<path d="M358.3 161.2L360.7 163.5L358.3 165.8L355.9 163.5Z" fill="none" stroke="#0c0ce2" stroke-width="1.45"/>
<path d="M368.4 158.2L370.8 160.5L368.4 162.8L366 160.5Z" fill="none" stroke="#0c0ce2" stroke-width="1.45"/>
<path d="M388.1 152.2L390.5 154.5L388.1 156.8L385.8 154.5Z" fill="none" stroke="#0c0ce2" stroke-width="1.45"/>
<path d="M417.7 132L420.1 134.3L417.7 136.7L415.3 134.3Z" fill="none" stroke="#0c0ce2" stroke-width="1.45"/>
<path d="M447.3 124.4L449.7 126.7L447.3 129.1L444.9 126.7Z" fill="none" stroke="#0c0ce2" stroke-width="1.45"/>
<path d="M278.5 146.9L279.1 144.5M284.3 149.7L287.2 144.8M293.2 139.7L295.1 138.9M303 136.2L304.9 135.6M313.1 135L314.6 135.3M323 136.4L334.3 137.9M342.5 139.7L354.3 143.5M362.5 145.3L364.2 145.5M372.3 144.5L384.2 139.9M392.1 137.1L413.7 130M421.4 130.8L443.6 143.3" fill="none" stroke="#ec1010" stroke-width="1.5"/>
<circle cx="273.7" cy="148.3" r="1.8" fill="none" stroke="#ec1010" stroke-width="1.6"/>
<circle cx="276" cy="144" r="1.8" fill="none" stroke="#ec1010" stroke-width="1.6"/>
<circle cx="277.5" cy="151" r="1.8" fill="none" stroke="#ec1010" stroke-width="1.6"/>
<circle cx="280.1" cy="140.4" r="1.8" fill="none" stroke="#ec1010" stroke-width="1.6"/>
<circle cx="281" cy="148" r="1.8" fill="none" stroke="#ec1010" stroke-width="1.6"/>
<circle cx="282.2" cy="153.3" r="1.8" fill="none" stroke="#ec1010" stroke-width="1.6"/>
<circle cx="289.3" cy="141.2" r="1.8" fill="none" stroke="#ec1010" stroke-width="1.6"/>
<circle cx="299" cy="137.4" r="1.8" fill="none" stroke="#ec1010" stroke-width="1.6"/>
<circle cx="308.9" cy="134.4" r="1.8" fill="none" stroke="#ec1010" stroke-width="1.6"/>
<circle cx="318.8" cy="135.9" r="1.8" fill="none" stroke="#ec1010" stroke-width="1.6"/>
<circle cx="338.5" cy="138.4" r="1.8" fill="none" stroke="#ec1010" stroke-width="1.6"/>
<circle cx="358.3" cy="144.8" r="1.8" fill="none" stroke="#ec1010" stroke-width="1.6"/>
<circle cx="368.4" cy="146" r="1.8" fill="none" stroke="#ec1010" stroke-width="1.6"/>
<circle cx="388.1" cy="138.4" r="1.8" fill="none" stroke="#ec1010" stroke-width="1.6"/>
<circle cx="417.7" cy="128.7" r="1.8" fill="none" stroke="#ec1010" stroke-width="1.6"/>
<circle cx="447.3" cy="145.4" r="1.8" fill="none" stroke="#ec1010" stroke-width="1.6"/>
<path d="M274 140L278 150L284 148L300 160L320 154.5L338.5 160.9L358.3 159.5L368.4 153.5L388.1 149.4L417.7 131.3L447.3 136" fill="none" stroke="#111" stroke-width="1.5" stroke-dasharray="5 3.6" stroke-linejoin="round"/>
<path d="M538.7 32.7L543.7 33.8M551.9 35.7L557.7 37M572 39.3L578.3 42.2M585.7 46.1L598.7 53.9M604.2 59.7L620.3 90.3" fill="none" stroke="#111" stroke-width="1.5"/>
<circle cx="503.2" cy="33.5" r="2.5" fill="#111"/>
<circle cx="504.5" cy="32.8" r="2.5" fill="#111"/>
<circle cx="505.8" cy="37.8" r="2.5" fill="#111"/>
<circle cx="506.2" cy="33" r="2.5" fill="#111"/>
<circle cx="507.5" cy="32.6" r="2.5" fill="#111"/>
<circle cx="509.8" cy="25.9" r="2.5" fill="#111"/>
<circle cx="509.5" cy="32.4" r="2.5" fill="#111"/>
<circle cx="511" cy="32.2" r="2.5" fill="#111"/>
<circle cx="512.5" cy="32" r="2.5" fill="#111"/>
<circle cx="514.9" cy="31.8" r="2.5" fill="#111"/>
<circle cx="521.1" cy="31.3" r="2.5" fill="#111"/>
<circle cx="528" cy="32" r="2.5" fill="#111"/>
<circle cx="534.6" cy="31.7" r="2.5" fill="#111"/>
<circle cx="547.8" cy="34.8" r="2.5" fill="#111"/>
<circle cx="561.8" cy="37.9" r="2.5" fill="#111"/>
<circle cx="568.2" cy="37.5" r="2.5" fill="#111"/>
<circle cx="582.1" cy="44" r="2.5" fill="#111"/>
<circle cx="602.3" cy="56" r="2.5" fill="#111"/>
<circle cx="622.2" cy="94" r="2.5" fill="#111"/>
<path d="M538.4 50L543.7 51.3M552 52.9L557.6 53.6M571.4 59.2L578.9 65.3M585.4 70.6L599 81.1M603.3 87.8L621.2 162" fill="none" stroke="#16c616" stroke-width="1.5"/>
<rect x="501.9" y="49.4" width="3.3" height="3.3" fill="none" stroke="#16c616" stroke-width="1.45"/>
<rect x="502.7" y="47.6" width="3.3" height="3.3" fill="none" stroke="#16c616" stroke-width="1.45"/>
<rect x="503.7" y="52.6" width="3.3" height="3.3" fill="none" stroke="#16c616" stroke-width="1.45"/>
<rect x="504.4" y="45.9" width="3.3" height="3.3" fill="none" stroke="#16c616" stroke-width="1.45"/>
<rect x="505.4" y="43.9" width="3.3" height="3.3" fill="none" stroke="#16c616" stroke-width="1.45"/>
<rect x="506.4" y="41.6" width="3.3" height="3.3" fill="none" stroke="#16c616" stroke-width="1.45"/>
<rect x="507.4" y="40" width="3.3" height="3.3" fill="none" stroke="#16c616" stroke-width="1.45"/>
<rect x="508.4" y="41.1" width="3.3" height="3.3" fill="none" stroke="#16c616" stroke-width="1.45"/>
<rect x="509.6" y="43" width="3.3" height="3.3" fill="none" stroke="#16c616" stroke-width="1.45"/>
<rect x="511" y="44" width="3.3" height="3.3" fill="none" stroke="#16c616" stroke-width="1.45"/>
<rect x="512.6" y="44.8" width="3.3" height="3.3" fill="none" stroke="#16c616" stroke-width="1.45"/>
<rect x="519.1" y="46.4" width="3.3" height="3.3" fill="none" stroke="#16c616" stroke-width="1.45"/>
<rect x="526" y="47.9" width="3.3" height="3.3" fill="none" stroke="#16c616" stroke-width="1.45"/>
<rect x="532.6" y="47.2" width="3.3" height="3.3" fill="none" stroke="#16c616" stroke-width="1.45"/>
<rect x="546.1" y="50.8" width="3.3" height="3.3" fill="none" stroke="#16c616" stroke-width="1.45"/>
<rect x="560.1" y="52.5" width="3.3" height="3.3" fill="none" stroke="#16c616" stroke-width="1.45"/>
<rect x="566.6" y="54.9" width="3.3" height="3.3" fill="none" stroke="#16c616" stroke-width="1.45"/>
<rect x="580.5" y="66.3" width="3.3" height="3.3" fill="none" stroke="#16c616" stroke-width="1.45"/>
<rect x="600.6" y="82" width="3.3" height="3.3" fill="none" stroke="#16c616" stroke-width="1.45"/>
<rect x="620.6" y="164.4" width="3.3" height="3.3" fill="none" stroke="#16c616" stroke-width="1.45"/>
<path d="M538.6 65.5L543.9 67.8M552 69.3L557.3 69M564.5 71.7L565.4 72.5M572.4 76.7L578.1 78.7M585.5 82.5L598.9 92.5M604.1 98.8L620.4 133.4" fill="none" stroke="#111" stroke-width="1.5"/>
<path d="M503.5 60.8L505.8 64.8L501.2 64.8Z" fill="#111"/>
<path d="M504.9 59.1L507.2 63.1L502.6 63.1Z" fill="#111"/>
<path d="M506.2 58.4L508.5 62.4L503.9 62.4Z" fill="#111"/>
<path d="M507.6 58.2L509.9 62.2L505.3 62.2Z" fill="#111"/>
<path d="M508.9 60.6L511.2 64.6L506.6 64.6Z" fill="#111"/>
<path d="M510.3 59.1L512.6 63.1L508 63.1Z" fill="#111"/>
<path d="M514.3 56.5L516.6 60.5L512 60.5Z" fill="#111"/>
<path d="M520.8 59.9L523.1 63.9L518.5 63.9Z" fill="#111"/>
<path d="M527.8 63.6L530.1 67.6L525.5 67.6Z" fill="#111"/>
<path d="M534.7 61.4L537 65.4L532.4 65.4Z" fill="#111"/>
<path d="M547.8 67.1L550.1 71.1L545.5 71.1Z" fill="#111"/>
<path d="M561.5 66.4L563.8 70.4L559.2 70.4Z" fill="#111"/>
<path d="M568.4 73L570.7 77L566.1 77Z" fill="#111"/>
<path d="M582.1 77.6L584.4 81.6L579.8 81.6Z" fill="#111"/>
<path d="M602.3 92.6L604.6 96.6L600 96.6Z" fill="#111"/>
<path d="M622.2 134.8L624.5 138.8L619.9 138.8Z" fill="#111"/>
<path d="M538.9 70.5L543.7 70.5M551.9 71.6L557.5 73.2M572.4 77.7L578.3 80.3M585.6 84.3L598.8 92.7M605.3 97.9L619.2 111.5" fill="none" stroke="#111" stroke-width="1.5"/>
<rect x="502" y="63" width="3" height="3" fill="#111"/>
<rect x="504.7" y="64" width="3" height="3" fill="#111"/>
<rect x="507.4" y="65" width="3" height="3" fill="#111"/>
<rect x="510.1" y="65.8" width="3" height="3" fill="#111"/>
<rect x="513.7" y="66" width="3" height="3" fill="#111"/>
<rect x="519.3" y="64.7" width="3" height="3" fill="#111"/>
<rect x="526.3" y="68.4" width="3" height="3" fill="#111"/>
<rect x="533.2" y="69" width="3" height="3" fill="#111"/>
<rect x="546.4" y="69" width="3" height="3" fill="#111"/>
<rect x="560" y="72.8" width="3" height="3" fill="#111"/>
<rect x="567.1" y="74.5" width="3" height="3" fill="#111"/>
<rect x="580.6" y="80.5" width="3" height="3" fill="#111"/>
<rect x="600.8" y="93.5" width="3" height="3" fill="#111"/>
<rect x="620.7" y="112.9" width="3" height="3" fill="#111"/>
<path d="M507 72.7L507.1 70.8M538.9 73.8L543.7 74.6M552 76L557.4 76.9M572.5 80.4L578 82.7M585.6 86.3L598.6 93.6M604.4 99.3L620.1 127.3" fill="none" stroke="#0c0ce2" stroke-width="1.5"/>
<path d="M503.6 65.2L506 67.5L503.6 69.8L501.2 67.5Z" fill="none" stroke="#0c0ce2" stroke-width="1.45"/>
<path d="M504.9 67.7L507.2 70L504.9 72.3L502.5 70Z" fill="none" stroke="#0c0ce2" stroke-width="1.45"/>
<path d="M505.7 69.7L508.1 72L505.7 74.3L503.3 72Z" fill="none" stroke="#0c0ce2" stroke-width="1.45"/>
<path d="M506.6 74.6L509 76.9L506.6 79.2L504.2 76.9Z" fill="none" stroke="#0c0ce2" stroke-width="1.45"/>
<path d="M507.5 64.2L509.9 66.6L507.5 68.9L505.1 66.6Z" fill="none" stroke="#0c0ce2" stroke-width="1.45"/>
<path d="M508.3 70.8L510.7 73.1L508.3 75.4L505.9 73.1Z" fill="none" stroke="#0c0ce2" stroke-width="1.45"/>
<path d="M509.5 68.2L511.9 70.5L509.5 72.8L507.1 70.5Z" fill="none" stroke="#0c0ce2" stroke-width="1.45"/>
<path d="M510.5 66L512.9 68.3L510.5 70.6L508.1 68.3Z" fill="none" stroke="#0c0ce2" stroke-width="1.45"/>
<path d="M511.6 68.7L514 71L511.6 73.3L509.2 71Z" fill="none" stroke="#0c0ce2" stroke-width="1.45"/>
<path d="M513.9 70.2L516.2 72.6L513.9 74.9L511.5 72.6Z" fill="none" stroke="#0c0ce2" stroke-width="1.45"/>
<path d="M521.2 72L523.6 74.3L521.2 76.6L518.9 74.3Z" fill="none" stroke="#0c0ce2" stroke-width="1.45"/>
<path d="M527.8 73.1L530.1 75.4L527.8 77.8L525.4 75.4Z" fill="none" stroke="#0c0ce2" stroke-width="1.45"/>
<path d="M534.7 70.9L537.1 73.2L534.7 75.5L532.4 73.2Z" fill="none" stroke="#0c0ce2" stroke-width="1.45"/>
<path d="M547.9 72.9L550.2 75.2L547.9 77.5L545.5 75.2Z" fill="none" stroke="#0c0ce2" stroke-width="1.45"/>
<path d="M561.5 75.4L563.9 77.7L561.5 80L559.1 77.7Z" fill="none" stroke="#0c0ce2" stroke-width="1.45"/>
<path d="M568.6 76.5L571 78.8L568.6 81.1L566.2 78.8Z" fill="none" stroke="#0c0ce2" stroke-width="1.45"/>
<path d="M581.9 82L584.2 84.3L581.9 86.6L579.5 84.3Z" fill="none" stroke="#0c0ce2" stroke-width="1.45"/>
<path d="M602.3 93.2L604.6 95.6L602.3 97.9L599.9 95.6Z" fill="none" stroke="#0c0ce2" stroke-width="1.45"/>
<path d="M622.2 128.7L624.6 131L622.2 133.3L619.9 131Z" fill="none" stroke="#0c0ce2" stroke-width="1.45"/>
<path d="M538.9 76.9L543.7 77.3M551.9 78.8L557.5 80.4M572.4 80.7L578.1 78.2M585.6 78.4L598.6 85.1M605.7 89.5L618.8 98.9" fill="none" stroke="#ec1010" stroke-width="1.5"/>
<circle cx="503.5" cy="85.5" r="1.8" fill="none" stroke="#ec1010" stroke-width="1.6"/>
<circle cx="504.9" cy="82.5" r="1.8" fill="none" stroke="#ec1010" stroke-width="1.6"/>
<circle cx="506.2" cy="84.5" r="1.8" fill="none" stroke="#ec1010" stroke-width="1.6"/>
<circle cx="507.6" cy="78.2" r="1.8" fill="none" stroke="#ec1010" stroke-width="1.6"/>
<circle cx="508.9" cy="81.5" r="1.8" fill="none" stroke="#ec1010" stroke-width="1.6"/>
<circle cx="510.5" cy="81.2" r="1.8" fill="none" stroke="#ec1010" stroke-width="1.6"/>
<circle cx="511.6" cy="80" r="1.8" fill="none" stroke="#ec1010" stroke-width="1.6"/>
<circle cx="514.3" cy="76.5" r="1.8" fill="none" stroke="#ec1010" stroke-width="1.6"/>
<circle cx="521.2" cy="79.9" r="1.8" fill="none" stroke="#ec1010" stroke-width="1.6"/>
<circle cx="527.8" cy="78.8" r="1.8" fill="none" stroke="#ec1010" stroke-width="1.6"/>
<circle cx="534.7" cy="76.5" r="1.8" fill="none" stroke="#ec1010" stroke-width="1.6"/>
<circle cx="547.9" cy="77.7" r="1.8" fill="none" stroke="#ec1010" stroke-width="1.6"/>
<circle cx="561.5" cy="81.5" r="1.8" fill="none" stroke="#ec1010" stroke-width="1.6"/>
<circle cx="568.6" cy="82.4" r="1.8" fill="none" stroke="#ec1010" stroke-width="1.6"/>
<circle cx="581.9" cy="76.5" r="1.8" fill="none" stroke="#ec1010" stroke-width="1.6"/>
<circle cx="602.3" cy="87" r="1.8" fill="none" stroke="#ec1010" stroke-width="1.6"/>
<circle cx="622.2" cy="101.4" r="1.8" fill="none" stroke="#ec1010" stroke-width="1.6"/>
<path d="M503.5 80L505 82.5L510.9 77.8L521.2 80.8L528 80.5L536 79.9L548.2 84.3L560.4 87L573.6 87L584.7 90.4L600 98.9L622.2 130.2" fill="none" stroke="#111" stroke-width="1.5" stroke-dasharray="5 3.6" stroke-linejoin="round"/>
<path d="M53.8 225.8L58.4 227.9M66.4 230.1L71.4 230.6M79.7 232L84.3 233.2M92 236.4L96.9 239.6M103.9 244.3L107.7 247.2M114.8 251.7L118.5 253.9M126.2 257.1L129 257.9M137.1 260.1L139.8 260.8M148 262.5L151.1 262.9M159.4 264.2L162.4 264.6M169.4 268.3L171.2 270.2M177 276.2L178 277.1M183.9 283.1L184.9 284.2M189 291.3L189.7 293.9M192.4 301.8L192.7 302.4M195.8 310.2L196.2 311" fill="none" stroke="#111" stroke-width="1.5"/>
<circle cx="45" cy="222" r="2.5" fill="#111"/>
<circle cx="48" cy="222.5" r="2.5" fill="#111"/>
<circle cx="50" cy="224" r="2.5" fill="#111"/>
<circle cx="62.2" cy="229.7" r="2.5" fill="#111"/>
<circle cx="75.6" cy="231" r="2.5" fill="#111"/>
<circle cx="88.4" cy="234.2" r="2.5" fill="#111"/>
<circle cx="100.5" cy="241.8" r="2.5" fill="#111"/>
<circle cx="111.1" cy="249.7" r="2.5" fill="#111"/>
<circle cx="122.2" cy="255.9" r="2.5" fill="#111"/>
<circle cx="133" cy="259.1" r="2.5" fill="#111"/>
<circle cx="143.9" cy="261.8" r="2.5" fill="#111"/>
<circle cx="155.2" cy="263.6" r="2.5" fill="#111"/>
<circle cx="166.6" cy="265.2" r="2.5" fill="#111"/>
<circle cx="174" cy="273.3" r="2.5" fill="#111"/>
<circle cx="181" cy="280" r="2.5" fill="#111"/>
<circle cx="187.8" cy="287.3" r="2.5" fill="#111"/>
<circle cx="190.9" cy="297.9" r="2.5" fill="#111"/>
<circle cx="194.2" cy="306.3" r="2.5" fill="#111"/>
<circle cx="197.8" cy="314.9" r="2.5" fill="#111"/>
<circle cx="201" cy="321" r="2.5" fill="#111"/>
<circle cx="204.1" cy="326.8" r="2.5" fill="#111"/>
<circle cx="207.7" cy="332.8" r="2.5" fill="#111"/>
<circle cx="210.7" cy="337.8" r="2.5" fill="#111"/>
<circle cx="213.7" cy="343.3" r="2.5" fill="#111"/>
<circle cx="216.7" cy="348.1" r="2.5" fill="#111"/>
<circle cx="218.6" cy="355.7" r="2.5" fill="#111"/>
<circle cx="218.6" cy="363.5" r="2.5" fill="#111"/>
<path d="M52.9 272.5L55.1 273.2M63.2 275.2L65.7 275.5M74 275.1L78.1 274.3M86.4 273.2L89.3 273M97.7 273L100.5 273.2M108.9 273.4L112 273.4M120.4 273.1L124 272.8M132.4 272.6L135.2 272.7M143.6 272.9L146.6 272.9M155 273.1L158.3 273.2M166 275.6L167.2 276.5M172.4 282.6L173.7 285.7M177.5 293.1L178.2 294.3M183 301.1L183.1 301.1M218.3 358.9L218.3 359.3" fill="none" stroke="#16c616" stroke-width="1.5"/>
<rect x="44.4" y="256.4" width="3.3" height="3.3" fill="none" stroke="#16c616" stroke-width="1.45"/>
<rect x="45.9" y="263.4" width="3.3" height="3.3" fill="none" stroke="#16c616" stroke-width="1.45"/>
<rect x="47.4" y="269.4" width="3.3" height="3.3" fill="none" stroke="#16c616" stroke-width="1.45"/>
<rect x="57.4" y="273.1" width="3.3" height="3.3" fill="none" stroke="#16c616" stroke-width="1.45"/>
<rect x="68.2" y="274.4" width="3.3" height="3.3" fill="none" stroke="#16c616" stroke-width="1.45"/>
<rect x="80.5" y="271.8" width="3.3" height="3.3" fill="none" stroke="#16c616" stroke-width="1.45"/>
<rect x="91.8" y="271.2" width="3.3" height="3.3" fill="none" stroke="#16c616" stroke-width="1.45"/>
<rect x="103" y="271.8" width="3.3" height="3.3" fill="none" stroke="#16c616" stroke-width="1.45"/>
<rect x="114.5" y="271.8" width="3.3" height="3.3" fill="none" stroke="#16c616" stroke-width="1.45"/>
<rect x="126.5" y="270.9" width="3.3" height="3.3" fill="none" stroke="#16c616" stroke-width="1.45"/>
<rect x="137.8" y="271.2" width="3.3" height="3.3" fill="none" stroke="#16c616" stroke-width="1.45"/>
<rect x="149.2" y="271.4" width="3.3" height="3.3" fill="none" stroke="#16c616" stroke-width="1.45"/>
<rect x="160.8" y="271.7" width="3.3" height="3.3" fill="none" stroke="#16c616" stroke-width="1.45"/>
<rect x="169" y="277.2" width="3.3" height="3.3" fill="none" stroke="#16c616" stroke-width="1.45"/>
<rect x="173.8" y="287.9" width="3.3" height="3.3" fill="none" stroke="#16c616" stroke-width="1.45"/>
<rect x="178.7" y="296.2" width="3.3" height="3.3" fill="none" stroke="#16c616" stroke-width="1.45"/>
<rect x="184.2" y="302.7" width="3.3" height="3.3" fill="none" stroke="#16c616" stroke-width="1.45"/>
<rect x="189.8" y="308.2" width="3.3" height="3.3" fill="none" stroke="#16c616" stroke-width="1.45"/>
<rect x="194.5" y="314.7" width="3.3" height="3.3" fill="none" stroke="#16c616" stroke-width="1.45"/>
<rect x="199" y="320.2" width="3.3" height="3.3" fill="none" stroke="#16c616" stroke-width="1.45"/>
<rect x="204" y="325.2" width="3.3" height="3.3" fill="none" stroke="#16c616" stroke-width="1.45"/>
<rect x="208" y="329.2" width="3.3" height="3.3" fill="none" stroke="#16c616" stroke-width="1.45"/>
<rect x="212" y="334.6" width="3.3" height="3.3" fill="none" stroke="#16c616" stroke-width="1.45"/>
<rect x="213" y="341.7" width="3.3" height="3.3" fill="none" stroke="#16c616" stroke-width="1.45"/>
<rect x="215.7" y="347.7" width="3.3" height="3.3" fill="none" stroke="#16c616" stroke-width="1.45"/>
<rect x="216.3" y="353.1" width="3.3" height="3.3" fill="none" stroke="#16c616" stroke-width="1.45"/>
<rect x="216.9" y="361.9" width="3.3" height="3.3" fill="none" stroke="#16c616" stroke-width="1.45"/>
<path d="M66.1 231.6L68.9 232.3M77 234.8L81.3 236.4M88.7 240.2L94.2 244.2M101.6 248L105.9 249.6M113.2 253.6L114.4 254.5M133.6 267.7L136.3 270M142.7 275.4L144.4 276.6M150.4 282.4L152.1 284.2M157.9 290.3L158.9 291.3M165.2 296.9L165.5 297.2M177.8 307.9L177.9 307.9" fill="none" stroke="#111" stroke-width="1.5"/>
<path d="M47 222.1L49.3 226.1L44.7 226.1Z" fill="#111"/>
<path d="M54.6 224.9L56.9 228.9L52.3 228.9Z" fill="#111"/>
<path d="M62 228.1L64.3 232.1L59.7 232.1Z" fill="#111"/>
<path d="M73 231L75.3 235L70.7 235Z" fill="#111"/>
<path d="M85.3 235.4L87.6 239.4L83 239.4Z" fill="#111"/>
<path d="M97.6 244.2L99.9 248.2L95.3 248.2Z" fill="#111"/>
<path d="M109.9 248.6L112.2 252.6L107.6 252.6Z" fill="#111"/>
<path d="M117.7 254.7L120 258.7L115.4 258.7Z" fill="#111"/>
<path d="M124 257.6L126.3 261.6L121.7 261.6Z" fill="#111"/>
<path d="M130.5 262.5L132.8 266.5L128.2 266.5Z" fill="#111"/>
<path d="M139.4 270.4L141.7 274.4L137.1 274.4Z" fill="#111"/>
<path d="M147.7 276.8L150 280.8L145.4 280.8Z" fill="#111"/>
<path d="M154.8 285L157.1 289L152.5 289Z" fill="#111"/>
<path d="M162 291.8L164.3 295.8L159.7 295.8Z" fill="#111"/>
<path d="M168.7 297.5L171 301.5L166.4 301.5Z" fill="#111"/>
<path d="M174.9 302.5L177.2 306.5L172.6 306.5Z" fill="#111"/>
<path d="M180.8 308.5L183.1 312.5L178.5 312.5Z" fill="#111"/>
<path d="M185.8 315.1L188.1 319.1L183.5 319.1Z" fill="#111"/>
<path d="M190.8 321L193.1 325L188.5 325Z" fill="#111"/>
<path d="M194.8 326.4L197.1 330.4L192.5 330.4Z" fill="#111"/>
<path d="M198.7 331L201 335L196.4 335Z" fill="#111"/>
<path d="M202.7 335.4L205 339.4L200.4 339.4Z" fill="#111"/>
<path d="M206.7 339.7L209 343.7L204.4 343.7Z" fill="#111"/>
<path d="M210.1 343.7L212.4 347.7L207.8 347.7Z" fill="#111"/>
<path d="M213.7 348.3L216 352.3L211.4 352.3Z" fill="#111"/>
<path d="M216.5 353.6L218.8 357.6L214.2 357.6Z" fill="#111"/>
<path d="M218.6 361.1L220.9 365.1L216.3 365.1Z" fill="#111"/>
<path d="M66.1 231.6L68.9 232.3M77 234.8L81.3 236.4M88.7 240.2L94.2 244.2M101.6 248L105.9 249.6M112.6 254.2L116.9 259.1M121.5 266.1L124.8 272.6M128.5 280.2L131 285.6M134.8 293.1L136.2 295.9M140.8 302.9L141.8 304.3M147.4 310.5L148.1 311.3" fill="none" stroke="#111" stroke-width="1.5"/>
<rect x="45.5" y="223" width="3" height="3" fill="#111"/>
<rect x="53.1" y="225.8" width="3" height="3" fill="#111"/>
<rect x="60.5" y="229" width="3" height="3" fill="#111"/>
<rect x="71.5" y="231.9" width="3" height="3" fill="#111"/>
<rect x="83.8" y="236.3" width="3" height="3" fill="#111"/>
<rect x="96.1" y="245.1" width="3" height="3" fill="#111"/>
<rect x="108.4" y="249.5" width="3" height="3" fill="#111"/>
<rect x="118.1" y="260.8" width="3" height="3" fill="#111"/>
<rect x="125.2" y="274.9" width="3" height="3" fill="#111"/>
<rect x="131.3" y="287.9" width="3" height="3" fill="#111"/>
<rect x="136.7" y="298.1" width="3" height="3" fill="#111"/>
<rect x="142.9" y="306.1" width="3" height="3" fill="#111"/>
<rect x="149.6" y="312.7" width="3" height="3" fill="#111"/>
<rect x="155.5" y="318.3" width="3" height="3" fill="#111"/>
<rect x="161.4" y="322.7" width="3" height="3" fill="#111"/>
<rect x="167.4" y="326.3" width="3" height="3" fill="#111"/>
<rect x="173.4" y="329.9" width="3" height="3" fill="#111"/>
<rect x="179.3" y="333.3" width="3" height="3" fill="#111"/>
<rect x="184.7" y="336.7" width="3" height="3" fill="#111"/>
<rect x="189.9" y="340.2" width="3" height="3" fill="#111"/>
<rect x="195.3" y="343.2" width="3" height="3" fill="#111"/>
<rect x="199.8" y="346.2" width="3" height="3" fill="#111"/>
<rect x="204.6" y="348.6" width="3" height="3" fill="#111"/>
<rect x="209.2" y="351.8" width="3" height="3" fill="#111"/>
<rect x="213.5" y="355.5" width="3" height="3" fill="#111"/>
<rect x="217.1" y="362" width="3" height="3" fill="#111"/>
<path d="M45 226L46.2 244.4L55 253L65.4 266.1L75 278L89.7 295.8L96 307.4L108 315L119.5 321.2L130 326.9L142.2 334.2L152 338.7L162 342.7L172 347.7L180 349.7L192 353.3L205 357.5L218.6 363.5" fill="none" stroke="#111" stroke-width="1.5" stroke-dasharray="5 3.6" stroke-linejoin="round"/>
<path d="M44.8 363.3L44.8 245" fill="none" stroke="#ec1010" stroke-width="1.5" stroke-linejoin="round"/>
<path d="M44.8 363.3L44.8 325.2L45.2 314.6L45.6 290.7L45 286.8" fill="none" stroke="#ec1010" stroke-width="1.5" stroke-linejoin="round"/>
<circle cx="44.8" cy="363.3" r="1.8" fill="none" stroke="#ec1010" stroke-width="1.6"/>
<circle cx="44.8" cy="325.2" r="1.8" fill="none" stroke="#ec1010" stroke-width="1.6"/>
<circle cx="45.2" cy="314.6" r="1.8" fill="none" stroke="#ec1010" stroke-width="1.6"/>
<circle cx="45.6" cy="290.7" r="1.8" fill="none" stroke="#ec1010" stroke-width="1.6"/>
<circle cx="45" cy="286.8" r="1.8" fill="none" stroke="#ec1010" stroke-width="1.6"/>
<path d="M52.6 302.8L53.4 302.6M61.7 301.9L63.1 301.9M71.5 302.1L72.9 302.2M81.2 303.1L83 303.4M91.3 303.9L93.1 303.7M101.5 303L103.3 302.7M111.7 301.9L113.3 301.8M121.2 303.5L122.3 304M129.3 308.6L129.7 308.9M136.4 314L136.7 314.2" fill="none" stroke="#ec1010" stroke-width="1.5"/>
<circle cx="45.5" cy="303.5" r="1.8" fill="none" stroke="#ec1010" stroke-width="1.6"/>
<circle cx="48.5" cy="303.5" r="1.8" fill="none" stroke="#ec1010" stroke-width="1.6"/>
<circle cx="57.5" cy="301.9" r="1.8" fill="none" stroke="#ec1010" stroke-width="1.6"/>
<circle cx="67.3" cy="301.9" r="1.8" fill="none" stroke="#ec1010" stroke-width="1.6"/>
<circle cx="77.1" cy="302.4" r="1.8" fill="none" stroke="#ec1010" stroke-width="1.6"/>
<circle cx="87.1" cy="304.1" r="1.8" fill="none" stroke="#ec1010" stroke-width="1.6"/>
<circle cx="97.3" cy="303.5" r="1.8" fill="none" stroke="#ec1010" stroke-width="1.6"/>
<circle cx="107.5" cy="302.2" r="1.8" fill="none" stroke="#ec1010" stroke-width="1.6"/>
<circle cx="117.5" cy="301.5" r="1.8" fill="none" stroke="#ec1010" stroke-width="1.6"/>
<circle cx="126" cy="306" r="1.8" fill="none" stroke="#ec1010" stroke-width="1.6"/>
<circle cx="133" cy="311.5" r="1.8" fill="none" stroke="#ec1010" stroke-width="1.6"/>
<circle cx="140.1" cy="316.7" r="1.8" fill="none" stroke="#ec1010" stroke-width="1.6"/>
<circle cx="147.5" cy="319.9" r="1.8" fill="none" stroke="#ec1010" stroke-width="1.6"/>
<circle cx="154" cy="323.4" r="1.8" fill="none" stroke="#ec1010" stroke-width="1.6"/>
<circle cx="159.6" cy="327.8" r="1.8" fill="none" stroke="#ec1010" stroke-width="1.6"/>
<circle cx="165.9" cy="331.8" r="1.8" fill="none" stroke="#ec1010" stroke-width="1.6"/>
<circle cx="171.9" cy="335.8" r="1.8" fill="none" stroke="#ec1010" stroke-width="1.6"/>
<circle cx="177.5" cy="339.3" r="1.8" fill="none" stroke="#ec1010" stroke-width="1.6"/>
<circle cx="182.8" cy="343.3" r="1.8" fill="none" stroke="#ec1010" stroke-width="1.6"/>
<circle cx="187.8" cy="346.1" r="1.8" fill="none" stroke="#ec1010" stroke-width="1.6"/>
<circle cx="193.4" cy="348.7" r="1.8" fill="none" stroke="#ec1010" stroke-width="1.6"/>
<circle cx="198.1" cy="351.7" r="1.8" fill="none" stroke="#ec1010" stroke-width="1.6"/>
<circle cx="202.7" cy="354.1" r="1.8" fill="none" stroke="#ec1010" stroke-width="1.6"/>
<circle cx="207.7" cy="356.1" r="1.8" fill="none" stroke="#ec1010" stroke-width="1.6"/>
<circle cx="213.3" cy="358" r="1.8" fill="none" stroke="#ec1010" stroke-width="1.6"/>
<circle cx="218.6" cy="360" r="1.8" fill="none" stroke="#ec1010" stroke-width="1.6"/>
<path d="M75.6 234.2" fill="none" stroke="#0c0ce2" stroke-width="0" stroke-linejoin="round"/>
<path d="M75.6 231.8L77.9 234.2L75.6 236.5L73.2 234.2Z" fill="#0c0ce2" stroke="#0c0ce2" stroke-width="1.45"/>
<path d="M49 233.2L57.5 235.5M65.6 236L71.5 234.9M76.2 238.4L80.8 272.4M82.5 280.7L86.6 296.1M89.5 304L92.6 310.5M96.5 317.9L98.4 321.2M103.7 327.5L104.1 327.9" fill="none" stroke="#0c0ce2" stroke-width="1.5"/>
<path d="M45 229.7L47.4 232L45 234.3L42.6 232Z" fill="none" stroke="#0c0ce2" stroke-width="1.45"/>
<path d="M61.5 234.3L63.9 236.7L61.5 239L59.1 236.7Z" fill="none" stroke="#0c0ce2" stroke-width="1.45"/>
<path d="M75.6 231.8L77.9 234.2L75.6 236.5L73.2 234.2Z" fill="none" stroke="#0c0ce2" stroke-width="1.45"/>
<path d="M81.4 274.2L83.8 276.6L81.4 279L79.1 276.6Z" fill="none" stroke="#0c0ce2" stroke-width="1.45"/>
<path d="M87.7 297.8L90 300.2L87.7 302.6L85.4 300.2Z" fill="none" stroke="#0c0ce2" stroke-width="1.45"/>
<path d="M94.4 311.9L96.8 314.3L94.4 316.7L92.1 314.3Z" fill="none" stroke="#0c0ce2" stroke-width="1.45"/>
<path d="M100.5 322.4L102.8 324.8L100.5 327.2L98.2 324.8Z" fill="none" stroke="#0c0ce2" stroke-width="1.45"/>
<path d="M107.3 328.2L109.6 330.6L107.3 333L105 330.6Z" fill="none" stroke="#0c0ce2" stroke-width="1.45"/>
<path d="M113.8 333.4L116.1 335.8L113.8 338.2L111.5 335.8Z" fill="none" stroke="#0c0ce2" stroke-width="1.45"/>
<path d="M120 338.6L122.3 341L120 343.4L117.7 341Z" fill="none" stroke="#0c0ce2" stroke-width="1.45"/>
<path d="M126 342L128.3 344.4L126 346.8L123.7 344.4Z" fill="none" stroke="#0c0ce2" stroke-width="1.45"/>
<path d="M132 345.5L134.3 347.9L132 350.2L129.7 347.9Z" fill="none" stroke="#0c0ce2" stroke-width="1.45"/>
<path d="M138.4 347.6L140.8 350L138.4 352.4L136.1 350Z" fill="none" stroke="#0c0ce2" stroke-width="1.45"/>
<path d="M144.9 349.6L147.2 352L144.9 354.4L142.6 352Z" fill="none" stroke="#0c0ce2" stroke-width="1.45"/>
<path d="M151.2 351.1L153.5 353.5L151.2 355.9L148.8 353.5Z" fill="none" stroke="#0c0ce2" stroke-width="1.45"/>
<path d="M157.6 352.4L159.9 354.8L157.6 357.2L155.2 354.8Z" fill="none" stroke="#0c0ce2" stroke-width="1.45"/>
<path d="M164.3 353.1L166.7 355.5L164.3 357.9L162 355.5Z" fill="none" stroke="#0c0ce2" stroke-width="1.45"/>
<path d="M170.9 354.3L173.2 356.7L170.9 359.1L168.6 356.7Z" fill="none" stroke="#0c0ce2" stroke-width="1.45"/>
<path d="M177.5 355.6L179.8 358L177.5 360.4L175.2 358Z" fill="none" stroke="#0c0ce2" stroke-width="1.45"/>
<path d="M183.8 356.8L186.2 359.2L183.8 361.6L181.5 359.2Z" fill="none" stroke="#0c0ce2" stroke-width="1.45"/>
<path d="M190.2 357.4L192.5 359.8L190.2 362.2L187.8 359.8Z" fill="none" stroke="#0c0ce2" stroke-width="1.45"/>
<path d="M196.2 358.2L198.5 360.6L196.2 363L193.8 360.6Z" fill="none" stroke="#0c0ce2" stroke-width="1.45"/>
<path d="M202.1 358.8L204.4 361.2L202.1 363.6L199.8 361.2Z" fill="none" stroke="#0c0ce2" stroke-width="1.45"/>
<path d="M208.7 359.6L211 362L208.7 364.4L206.3 362Z" fill="none" stroke="#0c0ce2" stroke-width="1.45"/>
<path d="M214.7 360.2L217 362.6L214.7 365L212.3 362.6Z" fill="none" stroke="#0c0ce2" stroke-width="1.45"/>
<path d="M218.6 361.1L220.9 363.5L218.6 365.9L216.2 363.5Z" fill="none" stroke="#0c0ce2" stroke-width="1.45"/>
<path d="M42.3 237L44.5 237L45 252L48.5 256L50.2 263L50 271.2L43.9 271.2L42.3 255Z" fill="#16c616"/>
<path d="M44.1 238L45.7 238L45.6 271.2L44.2 271.2Z" fill="#7a3a1c"/>
<path d="M43.2 292.5Q41.9 304 42.6 313.5Q44.6 317.5 46.8 315.5Q49.9 309 50 303Q49.2 295.5 46.6 292.2Z" fill="#ec1010"/>
<path d="M44.8 220.3Q49.5 219.8 50.3 224L50 232Q49.5 238 47.2 240.6L43.5 240.6Q42.5 236 42.2 230Q41.6 221 44.8 220.3Z" fill="#0c0ce2"/>
<path d="M279.2 233.7L280 228.3M280.8 228.3L282.6 250.6M286 244.9L288 239.6M297.8 230.5L305.4 225.8M313.1 224.6L314.7 225.1M322.3 228.4L325.3 230.5M332.5 234.7L335.1 236.1M340.5 241.8L347.1 256.7M350.4 256.6L357 240.8M362.6 238.2L364.5 238.8M371.5 243L384.9 256M391.4 261.2L414.3 275.8M422 277.8L443.6 275.9" fill="none" stroke="#111" stroke-width="1.5"/>
<circle cx="274" cy="232.4" r="2.5" fill="#111"/>
<circle cx="276.5" cy="239.3" r="2.5" fill="#111"/>
<circle cx="278.7" cy="237.9" r="2.5" fill="#111"/>
<circle cx="280.5" cy="224.1" r="2.5" fill="#111"/>
<circle cx="282.9" cy="254.8" r="2.5" fill="#111"/>
<circle cx="284.6" cy="248.9" r="2.5" fill="#111"/>
<circle cx="289.4" cy="235.6" r="2.5" fill="#111"/>
<circle cx="294.2" cy="232.7" r="2.5" fill="#111"/>
<circle cx="309" cy="223.6" r="2.5" fill="#111"/>
<circle cx="318.8" cy="226.1" r="2.5" fill="#111"/>
<circle cx="328.8" cy="232.8" r="2.5" fill="#111"/>
<circle cx="338.8" cy="238" r="2.5" fill="#111"/>
<circle cx="348.8" cy="260.5" r="2.5" fill="#111"/>
<circle cx="358.6" cy="236.9" r="2.5" fill="#111"/>
<circle cx="368.5" cy="240.1" r="2.5" fill="#111"/>
<circle cx="387.9" cy="258.9" r="2.5" fill="#111"/>
<circle cx="417.8" cy="278.1" r="2.5" fill="#111"/>
<circle cx="447.8" cy="275.6" r="2.5" fill="#111"/>
<path d="M274.7 269.9L275.4 265.5M277.1 265.5L277.4 267M278.8 266.9L280.1 252.8M280.9 252.8L281.3 255.8M286.2 266.5L286.8 267.6M297.4 265L305.8 257.8M312.9 256.7L314.9 257.6M322.9 259.9L324.7 260.3M332.6 259.2L335 258.2M343 256.4L344.6 256.4M352.9 255.7L354.5 255.4M362.8 255.1L364.3 255.3M372.7 255.6L383.7 255.2M392.1 254.9L413.6 253.8M420.8 256.6L444.8 280.9" fill="none" stroke="#16c616" stroke-width="1.5"/>
<rect x="272.4" y="272.4" width="3.3" height="3.3" fill="none" stroke="#16c616" stroke-width="1.45"/>
<rect x="274.5" y="259.8" width="3.3" height="3.3" fill="none" stroke="#16c616" stroke-width="1.45"/>
<rect x="276.8" y="269.5" width="3.3" height="3.3" fill="none" stroke="#16c616" stroke-width="1.45"/>
<rect x="278.9" y="246.9" width="3.3" height="3.3" fill="none" stroke="#16c616" stroke-width="1.45"/>
<rect x="280.1" y="258.4" width="3.3" height="3.3" fill="none" stroke="#16c616" stroke-width="1.45"/>
<rect x="282.2" y="261.4" width="3.3" height="3.3" fill="none" stroke="#16c616" stroke-width="1.45"/>
<rect x="287.5" y="269.5" width="3.3" height="3.3" fill="none" stroke="#16c616" stroke-width="1.45"/>
<rect x="292.6" y="266.1" width="3.3" height="3.3" fill="none" stroke="#16c616" stroke-width="1.45"/>
<rect x="307.4" y="253.4" width="3.3" height="3.3" fill="none" stroke="#16c616" stroke-width="1.45"/>
<rect x="317.2" y="257.6" width="3.3" height="3.3" fill="none" stroke="#16c616" stroke-width="1.45"/>
<rect x="327.2" y="259.4" width="3.3" height="3.3" fill="none" stroke="#16c616" stroke-width="1.45"/>
<rect x="337.2" y="254.7" width="3.3" height="3.3" fill="none" stroke="#16c616" stroke-width="1.45"/>
<rect x="347.2" y="254.7" width="3.3" height="3.3" fill="none" stroke="#16c616" stroke-width="1.45"/>
<rect x="357" y="253" width="3.3" height="3.3" fill="none" stroke="#16c616" stroke-width="1.45"/>
<rect x="366.9" y="254" width="3.3" height="3.3" fill="none" stroke="#16c616" stroke-width="1.45"/>
<rect x="386.2" y="253.4" width="3.3" height="3.3" fill="none" stroke="#16c616" stroke-width="1.45"/>
<rect x="416.2" y="251.9" width="3.3" height="3.3" fill="none" stroke="#16c616" stroke-width="1.45"/>
<rect x="446.2" y="282.2" width="3.3" height="3.3" fill="none" stroke="#16c616" stroke-width="1.45"/>
<path d="M274.7 306L275.8 299.2M291.6 302.7L292 303.3M298.4 306.9L304.8 306.9M313.1 307.8L314.7 308.1M322.6 310.8L325 312M332.7 312.3L334.9 311.6M342.9 311L344.7 311.3M352.3 309.9L355.1 308.2M362.5 307.5L364.6 308.5M372.4 311.8L384 316.7M391.9 317L413.8 309.4M421.1 305.4L444.5 287.6" fill="none" stroke="#111" stroke-width="1.5"/>
<path d="M274 307.7L276.3 311.7L271.7 311.7Z" fill="#111"/>
<path d="M276.5 292.7L278.8 296.7L274.2 296.7Z" fill="#111"/>
<path d="M278 298.9L280.3 302.9L275.7 302.9Z" fill="#111"/>
<path d="M280.2 301.8L282.5 305.8L277.9 305.8Z" fill="#111"/>
<path d="M282.4 294.2L284.7 298.2L280.1 298.2Z" fill="#111"/>
<path d="M284.6 296.7L286.9 300.7L282.3 300.7Z" fill="#111"/>
<path d="M289.4 296.7L291.7 300.7L287.1 300.7Z" fill="#111"/>
<path d="M294.2 304.5L296.5 308.5L291.9 308.5Z" fill="#111"/>
<path d="M309 304.5L311.3 308.5L306.7 308.5Z" fill="#111"/>
<path d="M318.8 306.6L321.1 310.6L316.5 310.6Z" fill="#111"/>
<path d="M328.8 311.4L331.1 315.4L326.5 315.4Z" fill="#111"/>
<path d="M338.8 307.7L341.1 311.7L336.5 311.7Z" fill="#111"/>
<path d="M348.8 309.8L351.1 313.8L346.5 313.8Z" fill="#111"/>
<path d="M358.6 303.5L360.9 307.5L356.3 307.5Z" fill="#111"/>
<path d="M368.5 307.7L370.8 311.7L366.2 311.7Z" fill="#111"/>
<path d="M387.9 316L390.2 320L385.6 320Z" fill="#111"/>
<path d="M417.8 305.6L420.1 309.6L415.5 309.6Z" fill="#111"/>
<path d="M447.8 282.6L450.1 286.6L445.5 286.6Z" fill="#111"/>
<path d="M282.5 328.5L283.5 333.2M298.3 338.6L304.9 337.1M313.2 336.3L314.6 336.4M323 336.1L324.6 336M332.5 337.6L335.1 339M342.9 340.1L344.7 339.8M352.2 336.5L355.2 334.4M362.7 333.1L364.4 333.6M372.6 333.8L383.8 331.4M392 329.7L413.7 325.5M420.4 321.4L445.2 289.3" fill="none" stroke="#111" stroke-width="1.5"/>
<rect x="272.5" y="335.3" width="3" height="3" fill="#111"/>
<rect x="275" y="329.1" width="3" height="3" fill="#111"/>
<rect x="277.2" y="325.5" width="3" height="3" fill="#111"/>
<rect x="280.2" y="322.9" width="3" height="3" fill="#111"/>
<rect x="282.8" y="335.8" width="3" height="3" fill="#111"/>
<rect x="287.9" y="339.8" width="3" height="3" fill="#111"/>
<rect x="292.7" y="338" width="3" height="3" fill="#111"/>
<rect x="307.5" y="334.7" width="3" height="3" fill="#111"/>
<rect x="317.3" y="335" width="3" height="3" fill="#111"/>
<rect x="327.3" y="334.1" width="3" height="3" fill="#111"/>
<rect x="337.3" y="339.5" width="3" height="3" fill="#111"/>
<rect x="347.3" y="337.4" width="3" height="3" fill="#111"/>
<rect x="357.1" y="330.5" width="3" height="3" fill="#111"/>
<rect x="367" y="333.2" width="3" height="3" fill="#111"/>
<rect x="386.4" y="329" width="3" height="3" fill="#111"/>
<rect x="416.3" y="323.2" width="3" height="3" fill="#111"/>
<rect x="446.3" y="284.5" width="3" height="3" fill="#111"/>
<path d="M298.4 362.5L304.8 362.4M313.2 361.9L314.6 361.7M323 361.6L324.6 361.6M332.9 360.8L334.7 360.3M343 358.6L344.6 358.3M353 357.1L354.4 357M362.5 354.8L364.6 353.9M372.4 350.6L384 345.6M391.5 341.7L414.2 327.9M420.3 322.3L445.3 289.4" fill="none" stroke="#0c0ce2" stroke-width="1.5"/>
<path d="M275 360.6L277.4 363L275 365.4L272.6 363Z" fill="none" stroke="#0c0ce2" stroke-width="1.45"/>
<path d="M276.7 360.6L279.1 363L276.7 365.4L274.3 363Z" fill="none" stroke="#0c0ce2" stroke-width="1.45"/>
<path d="M278.4 360.6L280.8 363L278.4 365.4L276 363Z" fill="none" stroke="#0c0ce2" stroke-width="1.45"/>
<path d="M280.1 360.6L282.5 363L280.1 365.4L277.8 363Z" fill="none" stroke="#0c0ce2" stroke-width="1.45"/>
<path d="M281.8 360.6L284.2 363L281.8 365.4L279.4 363Z" fill="none" stroke="#0c0ce2" stroke-width="1.45"/>
<path d="M283.5 360.6L285.9 363L283.5 365.4L281.1 363Z" fill="none" stroke="#0c0ce2" stroke-width="1.45"/>
<path d="M285.2 360.6L287.6 363L285.2 365.4L282.8 363Z" fill="none" stroke="#0c0ce2" stroke-width="1.45"/>
<path d="M289.4 360.4L291.8 362.8L289.4 365.2L287 362.8Z" fill="none" stroke="#0c0ce2" stroke-width="1.45"/>
<path d="M294.2 360.2L296.6 362.6L294.2 365L291.8 362.6Z" fill="none" stroke="#0c0ce2" stroke-width="1.45"/>
<path d="M309 359.9L311.4 362.3L309 364.7L306.6 362.3Z" fill="none" stroke="#0c0ce2" stroke-width="1.45"/>
<path d="M318.8 358.9L321.2 361.3L318.8 363.7L316.4 361.3Z" fill="none" stroke="#0c0ce2" stroke-width="1.45"/>
<path d="M328.8 359.5L331.2 361.9L328.8 364.2L326.4 361.9Z" fill="none" stroke="#0c0ce2" stroke-width="1.45"/>
<path d="M338.8 356.8L341.2 359.2L338.8 361.6L336.4 359.2Z" fill="none" stroke="#0c0ce2" stroke-width="1.45"/>
<path d="M348.8 355.3L351.2 357.7L348.8 360.1L346.4 357.7Z" fill="none" stroke="#0c0ce2" stroke-width="1.45"/>
<path d="M358.6 354L361 356.4L358.6 358.8L356.2 356.4Z" fill="none" stroke="#0c0ce2" stroke-width="1.45"/>
<path d="M368.5 349.9L370.9 352.3L368.5 354.7L366.1 352.3Z" fill="none" stroke="#0c0ce2" stroke-width="1.45"/>
<path d="M387.9 341.5L390.2 343.9L387.9 346.2L385.5 343.9Z" fill="none" stroke="#0c0ce2" stroke-width="1.45"/>
<path d="M417.8 323.3L420.2 325.7L417.8 328.1L415.4 325.7Z" fill="none" stroke="#0c0ce2" stroke-width="1.45"/>
<path d="M447.8 283.6L450.2 286L447.8 288.4L445.4 286Z" fill="none" stroke="#0c0ce2" stroke-width="1.45"/>
<path d="M279.2 341.2L279.7 336M280.8 336L281.8 341.9M298.2 352.8L305 350.9M312.6 352L315.2 353.5M322.9 355L324.7 354.6M332.7 352.4L334.9 351.7M342.9 349.2L344.7 348.7M352.6 345.9L354.8 344.9M362.8 343.7L364.3 343.9M372.3 342.7L384.1 336.9M391.7 333.3L414 322.7M420.5 317.7L445.1 289.2" fill="none" stroke="#ec1010" stroke-width="1.5"/>
<circle cx="274" cy="348.3" r="1.8" fill="none" stroke="#ec1010" stroke-width="1.6"/>
<circle cx="276.5" cy="344.2" r="1.8" fill="none" stroke="#ec1010" stroke-width="1.6"/>
<circle cx="278.7" cy="345.4" r="1.8" fill="none" stroke="#ec1010" stroke-width="1.6"/>
<circle cx="280.2" cy="331.8" r="1.8" fill="none" stroke="#ec1010" stroke-width="1.6"/>
<circle cx="282.4" cy="346.1" r="1.8" fill="none" stroke="#ec1010" stroke-width="1.6"/>
<circle cx="284.3" cy="353.5" r="1.8" fill="none" stroke="#ec1010" stroke-width="1.6"/>
<circle cx="289.4" cy="353.9" r="1.8" fill="none" stroke="#ec1010" stroke-width="1.6"/>
<circle cx="294.2" cy="353.9" r="1.8" fill="none" stroke="#ec1010" stroke-width="1.6"/>
<circle cx="309" cy="349.8" r="1.8" fill="none" stroke="#ec1010" stroke-width="1.6"/>
<circle cx="318.8" cy="355.7" r="1.8" fill="none" stroke="#ec1010" stroke-width="1.6"/>
<circle cx="328.8" cy="353.9" r="1.8" fill="none" stroke="#ec1010" stroke-width="1.6"/>
<circle cx="338.8" cy="350.2" r="1.8" fill="none" stroke="#ec1010" stroke-width="1.6"/>
<circle cx="348.8" cy="347.7" r="1.8" fill="none" stroke="#ec1010" stroke-width="1.6"/>
<circle cx="358.6" cy="343.1" r="1.8" fill="none" stroke="#ec1010" stroke-width="1.6"/>
<circle cx="368.5" cy="344.5" r="1.8" fill="none" stroke="#ec1010" stroke-width="1.6"/>
<circle cx="387.9" cy="335.1" r="1.8" fill="none" stroke="#ec1010" stroke-width="1.6"/>
<circle cx="417.8" cy="320.9" r="1.8" fill="none" stroke="#ec1010" stroke-width="1.6"/>
<circle cx="447.8" cy="286" r="1.8" fill="none" stroke="#ec1010" stroke-width="1.6"/>
<path d="M274.2 355.2L276.2 358.2L278 355.4" fill="none" stroke="#111" stroke-width="1.5" stroke-linejoin="round"/>
<path d="M283.2 357.8L288.5 361L292 358.5L300.5 358.1L308 358.6L314 356.7L318.8 355.5L328.8 357.1L338.8 357L348.8 355L358.6 353L368.5 351.4L387.9 343L417.8 324L447.8 286" fill="none" stroke="#111" stroke-width="1.5" stroke-dasharray="5 3.6" stroke-linejoin="round"/>
<path d="M521.7 224.9L523.5 224.4M530.9 226.1L531 226.2M572.9 232.6L577.6 233.6M585.6 236L598.5 241.1M605.2 245.7L619.7 261.6" fill="none" stroke="#111" stroke-width="1.5"/>
<circle cx="503.9" cy="230" r="2.5" fill="#111"/>
<circle cx="504.6" cy="231.5" r="2.5" fill="#111"/>
<circle cx="505.5" cy="228.5" r="2.5" fill="#111"/>
<circle cx="506.5" cy="227.2" r="2.5" fill="#111"/>
<circle cx="507.5" cy="229.5" r="2.5" fill="#111"/>
<circle cx="508.3" cy="225.8" r="2.5" fill="#111"/>
<circle cx="509.5" cy="230.5" r="2.5" fill="#111"/>
<circle cx="511" cy="228.8" r="2.5" fill="#111"/>
<circle cx="512.5" cy="229.5" r="2.5" fill="#111"/>
<circle cx="514.2" cy="228.3" r="2.5" fill="#111"/>
<circle cx="517.6" cy="225.8" r="2.5" fill="#111"/>
<circle cx="527.6" cy="223.5" r="2.5" fill="#111"/>
<circle cx="534.3" cy="228.8" r="2.5" fill="#111"/>
<circle cx="541.5" cy="228.8" r="2.5" fill="#111"/>
<circle cx="547.9" cy="228.1" r="2.5" fill="#111"/>
<circle cx="554.6" cy="231" r="2.5" fill="#111"/>
<circle cx="561.5" cy="228.5" r="2.5" fill="#111"/>
<circle cx="568.8" cy="231.7" r="2.5" fill="#111"/>
<circle cx="581.7" cy="234.5" r="2.5" fill="#111"/>
<circle cx="602.4" cy="242.6" r="2.5" fill="#111"/>
<circle cx="622.5" cy="264.7" r="2.5" fill="#111"/>
<path d="M522.1 239.3L523.4 239.2M572.9 244.3L577.6 245.5M585.4 248.6L598.7 255.9M603.2 262L621.6 359.6" fill="none" stroke="#16c616" stroke-width="1.5"/>
<rect x="502.2" y="239.5" width="3.3" height="3.3" fill="none" stroke="#16c616" stroke-width="1.45"/>
<rect x="503.4" y="238.2" width="3.3" height="3.3" fill="none" stroke="#16c616" stroke-width="1.45"/>
<rect x="504.5" y="236.8" width="3.3" height="3.3" fill="none" stroke="#16c616" stroke-width="1.45"/>
<rect x="505.7" y="235.3" width="3.3" height="3.3" fill="none" stroke="#16c616" stroke-width="1.45"/>
<rect x="506.7" y="234.3" width="3.3" height="3.3" fill="none" stroke="#16c616" stroke-width="1.45"/>
<rect x="508.2" y="236.3" width="3.3" height="3.3" fill="none" stroke="#16c616" stroke-width="1.45"/>
<rect x="509.9" y="237.9" width="3.3" height="3.3" fill="none" stroke="#16c616" stroke-width="1.45"/>
<rect x="512.6" y="239.5" width="3.3" height="3.3" fill="none" stroke="#16c616" stroke-width="1.45"/>
<rect x="516.2" y="238.2" width="3.3" height="3.3" fill="none" stroke="#16c616" stroke-width="1.45"/>
<rect x="526" y="237" width="3.3" height="3.3" fill="none" stroke="#16c616" stroke-width="1.45"/>
<rect x="533" y="238.4" width="3.3" height="3.3" fill="none" stroke="#16c616" stroke-width="1.45"/>
<rect x="539.9" y="239.9" width="3.3" height="3.3" fill="none" stroke="#16c616" stroke-width="1.45"/>
<rect x="546.2" y="238.8" width="3.3" height="3.3" fill="none" stroke="#16c616" stroke-width="1.45"/>
<rect x="553" y="240.3" width="3.3" height="3.3" fill="none" stroke="#16c616" stroke-width="1.45"/>
<rect x="559.9" y="240.9" width="3.3" height="3.3" fill="none" stroke="#16c616" stroke-width="1.45"/>
<rect x="567.1" y="241.5" width="3.3" height="3.3" fill="none" stroke="#16c616" stroke-width="1.45"/>
<rect x="580.1" y="244.9" width="3.3" height="3.3" fill="none" stroke="#16c616" stroke-width="1.45"/>
<rect x="600.8" y="256.2" width="3.3" height="3.3" fill="none" stroke="#16c616" stroke-width="1.45"/>
<rect x="620.8" y="362.1" width="3.3" height="3.3" fill="none" stroke="#16c616" stroke-width="1.45"/>
<path d="M521.7 252.4L523.4 252.4M572.6 261.8L577.9 264.4M585.3 268.5L598.8 276.6M604.3 282.5L620.5 313.3" fill="none" stroke="#111" stroke-width="1.5"/>
<path d="M504.5 252.9L506.8 256.9L502.2 256.9Z" fill="#111"/>
<path d="M505.6 245.9L507.9 249.9L503.3 249.9Z" fill="#111"/>
<path d="M506.7 247.1L509 251.1L504.4 251.1Z" fill="#111"/>
<path d="M507.7 248L510 252L505.4 252Z" fill="#111"/>
<path d="M509 247.1L511.3 251.1L506.7 251.1Z" fill="#111"/>
<path d="M510.4 247.5L512.7 251.5L508.1 251.5Z" fill="#111"/>
<path d="M512 248.1L514.3 252.1L509.7 252.1Z" fill="#111"/>
<path d="M514.2 247.5L516.5 251.5L511.9 251.5Z" fill="#111"/>
<path d="M517.5 250.2L519.8 254.2L515.2 254.2Z" fill="#111"/>
<path d="M527.6 249.8L529.9 253.8L525.3 253.8Z" fill="#111"/>
<path d="M534.6 250.6L536.9 254.6L532.3 254.6Z" fill="#111"/>
<path d="M541.5 253.5L543.8 257.5L539.2 257.5Z" fill="#111"/>
<path d="M547.9 253L550.2 257L545.6 257Z" fill="#111"/>
<path d="M555 256.1L557.3 260.1L552.7 260.1Z" fill="#111"/>
<path d="M561.5 253.9L563.8 257.9L559.2 257.9Z" fill="#111"/>
<path d="M568.8 257.5L571.1 261.5L566.5 261.5Z" fill="#111"/>
<path d="M581.7 263.9L584 267.9L579.4 267.9Z" fill="#111"/>
<path d="M602.4 276.4L604.7 280.4L600.1 280.4Z" fill="#111"/>
<path d="M622.4 314.6L624.7 318.6L620.1 318.6Z" fill="#111"/>
<path d="M510.2 267.1L510.7 272.7M521.2 272.2L523.9 270.6M572.8 277.5L577.7 278.9M585.5 281.9L598.6 288.5M604.3 294.1L620.5 325.8" fill="none" stroke="#111" stroke-width="1.5"/>
<rect x="501.9" y="266.8" width="3" height="3" fill="#111"/>
<rect x="502.7" y="265" width="3" height="3" fill="#111"/>
<rect x="503.5" y="264.1" width="3" height="3" fill="#111"/>
<rect x="504.5" y="263" width="3" height="3" fill="#111"/>
<rect x="505.7" y="262.5" width="3" height="3" fill="#111"/>
<rect x="507" y="261.7" width="3" height="3" fill="#111"/>
<rect x="508.4" y="261.4" width="3" height="3" fill="#111"/>
<rect x="509.5" y="275.4" width="3" height="3" fill="#111"/>
<rect x="512.7" y="271.6" width="3" height="3" fill="#111"/>
<rect x="516" y="272.7" width="3" height="3" fill="#111"/>
<rect x="526.1" y="267.1" width="3" height="3" fill="#111"/>
<rect x="533.1" y="267.7" width="3" height="3" fill="#111"/>
<rect x="540" y="267.7" width="3" height="3" fill="#111"/>
<rect x="546.4" y="269.3" width="3" height="3" fill="#111"/>
<rect x="553.5" y="270.9" width="3" height="3" fill="#111"/>
<rect x="560" y="272.9" width="3" height="3" fill="#111"/>
<rect x="567.3" y="274.9" width="3" height="3" fill="#111"/>
<rect x="580.2" y="278.5" width="3" height="3" fill="#111"/>
<rect x="600.9" y="288.9" width="3" height="3" fill="#111"/>
<rect x="620.9" y="328" width="3" height="3" fill="#111"/>
<path d="M509.2 290.4L509.5 291.7M521.5 296.2L524.1 294.5M557.2 292.5L559.2 295.2M564.8 295.8L565.4 295.3M572.7 293.2L577.7 294M586 295.1L597.8 296.2M604.8 299.7L619.6 316.6" fill="none" stroke="#ec1010" stroke-width="1.5"/>
<circle cx="503.9" cy="287.7" r="1.8" fill="none" stroke="#ec1010" stroke-width="1.6"/>
<circle cx="504.5" cy="289" r="1.8" fill="none" stroke="#ec1010" stroke-width="1.6"/>
<circle cx="505" cy="287.2" r="1.8" fill="none" stroke="#ec1010" stroke-width="1.6"/>
<circle cx="506.1" cy="286.6" r="1.8" fill="none" stroke="#ec1010" stroke-width="1.6"/>
<circle cx="507.2" cy="287.5" r="1.8" fill="none" stroke="#ec1010" stroke-width="1.6"/>
<circle cx="508.3" cy="286.3" r="1.8" fill="none" stroke="#ec1010" stroke-width="1.6"/>
<circle cx="510.4" cy="295.8" r="1.8" fill="none" stroke="#ec1010" stroke-width="1.6"/>
<circle cx="509.9" cy="299.1" r="1.8" fill="none" stroke="#ec1010" stroke-width="1.6"/>
<circle cx="511.8" cy="296" r="1.8" fill="none" stroke="#ec1010" stroke-width="1.6"/>
<circle cx="514.2" cy="295.3" r="1.8" fill="none" stroke="#ec1010" stroke-width="1.6"/>
<circle cx="518" cy="298.5" r="1.8" fill="none" stroke="#ec1010" stroke-width="1.6"/>
<circle cx="527.6" cy="292.2" r="1.8" fill="none" stroke="#ec1010" stroke-width="1.6"/>
<circle cx="534.6" cy="289.8" r="1.8" fill="none" stroke="#ec1010" stroke-width="1.6"/>
<circle cx="541.5" cy="290.5" r="1.8" fill="none" stroke="#ec1010" stroke-width="1.6"/>
<circle cx="548" cy="288.6" r="1.8" fill="none" stroke="#ec1010" stroke-width="1.6"/>
<circle cx="554.8" cy="289.1" r="1.8" fill="none" stroke="#ec1010" stroke-width="1.6"/>
<circle cx="561.6" cy="298.6" r="1.8" fill="none" stroke="#ec1010" stroke-width="1.6"/>
<circle cx="568.6" cy="292.5" r="1.8" fill="none" stroke="#ec1010" stroke-width="1.6"/>
<circle cx="581.8" cy="294.7" r="1.8" fill="none" stroke="#ec1010" stroke-width="1.6"/>
<circle cx="602" cy="296.6" r="1.8" fill="none" stroke="#ec1010" stroke-width="1.6"/>
<circle cx="622.4" cy="319.7" r="1.8" fill="none" stroke="#ec1010" stroke-width="1.6"/>
<path d="M503.3 304.5L505.3 302L511.5 310.3L519 306.5L533.1 306.8L537.4 308.6L544.2 309.8L549.1 308L554.6 312.8L566.4 318.2L577.1 322.4L590 328.9L601.7 335.3L616.7 347L622.4 352" fill="none" stroke="#111" stroke-width="1.5" stroke-dasharray="5 3.6" stroke-linejoin="round"/>
<path d="M521.8 331.4L523.9 330.9M572.7 331.8L577.6 331.9M586 332.5L597.5 333.4M605.6 335.4L618.5 340.7" fill="none" stroke="#0c0ce2" stroke-width="1.5"/>
<path d="M503.9 326.5L506.2 328.9L503.9 331.2L501.5 328.9Z" fill="none" stroke="#0c0ce2" stroke-width="1.45"/>
<path d="M505.8 328.3L508.2 330.7L505.8 333.1L503.4 330.7Z" fill="none" stroke="#0c0ce2" stroke-width="1.45"/>
<path d="M507.9 330.2L510.2 332.6L507.9 335L505.5 332.6Z" fill="none" stroke="#0c0ce2" stroke-width="1.45"/>
<path d="M509.8 332.6L512.1 335L509.8 337.4L507.4 335Z" fill="none" stroke="#0c0ce2" stroke-width="1.45"/>
<path d="M512.2 329.8L514.6 332.2L512.2 334.6L509.9 332.2Z" fill="none" stroke="#0c0ce2" stroke-width="1.45"/>
<path d="M514.1 327.1L516.5 329.5L514.1 331.9L511.8 329.5Z" fill="none" stroke="#0c0ce2" stroke-width="1.45"/>
<path d="M517.7 329.8L520.1 332.2L517.7 334.6L515.4 332.2Z" fill="none" stroke="#0c0ce2" stroke-width="1.45"/>
<path d="M528 327.8L530.4 330.1L528 332.5L525.6 330.1Z" fill="none" stroke="#0c0ce2" stroke-width="1.45"/>
<path d="M534.6 329.8L537 332.2L534.6 334.6L532.2 332.2Z" fill="none" stroke="#0c0ce2" stroke-width="1.45"/>
<path d="M541.5 329.3L543.9 331.7L541.5 334.1L539.1 331.7Z" fill="none" stroke="#0c0ce2" stroke-width="1.45"/>
<path d="M548.1 328.8L550.5 331.2L548.1 333.6L545.8 331.2Z" fill="none" stroke="#0c0ce2" stroke-width="1.45"/>
<path d="M554.6 330.8L557 333.1L554.6 335.5L552.2 333.1Z" fill="none" stroke="#0c0ce2" stroke-width="1.45"/>
<path d="M561.7 329.8L564.1 332.1L561.7 334.5L559.4 332.1Z" fill="none" stroke="#0c0ce2" stroke-width="1.45"/>
<path d="M568.5 329.2L570.9 331.6L568.5 334L566.1 331.6Z" fill="none" stroke="#0c0ce2" stroke-width="1.45"/>
<path d="M581.8 329.8L584.1 332.1L581.8 334.5L579.4 332.1Z" fill="none" stroke="#0c0ce2" stroke-width="1.45"/>
<path d="M601.7 331.4L604.1 333.8L601.7 336.2L599.4 333.8Z" fill="none" stroke="#0c0ce2" stroke-width="1.45"/>
<path d="M622.4 339.9L624.8 342.3L622.4 344.7L620 342.3Z" fill="none" stroke="#0c0ce2" stroke-width="1.45"/>
<path d="M503.8 328.9L510 335.3L513.6 330.5" fill="none" stroke="#0c0ce2" stroke-width="4.2" stroke-linejoin="round" stroke-linecap="round"/>
<rect x="626.5" y="20.8" width="56.5" height="72" fill="#fff" stroke="#1e1e1e" stroke-width="1.1"/>
<line x1="628.2" y1="29.9" x2="642.6" y2="29.9" stroke="#111" stroke-width="2.1"/>
<circle cx="635.4" cy="29.9" r="2.4" fill="#111"/>
<text x="649.1" y="32.4" font-size="6.9" textLength="28.2" lengthAdjust="spacingAndGlyphs" style="stroke-width:0.12px;fill:#262626">HAC−ML</text>
<line x1="628.2" y1="39" x2="642.6" y2="39" stroke="#16c616" stroke-width="2.1"/>
<circle cx="635.4" cy="39" r="2.6" fill="#16c616"/>
<text x="649.1" y="41.5" font-size="6.9" textLength="14.24" lengthAdjust="spacingAndGlyphs" style="stroke-width:0.12px;fill:#262626">VBM</text>
<line x1="628.2" y1="48" x2="642.6" y2="48" stroke="#111" stroke-width="2.1"/>
<path d="M635.4 45.1L637.9 49.1L632.9 49.1Z" fill="#111"/>
<text x="649.1" y="50.5" font-size="6.9" textLength="26.16" lengthAdjust="spacingAndGlyphs" style="stroke-width:0.12px;fill:#262626">HAC−ES</text>
<line x1="628.2" y1="57.1" x2="642.6" y2="57.1" stroke="#111" stroke-width="2.1"/>
<rect x="633.8" y="55.5" width="3.2" height="3.2" fill="#111"/>
<text x="649.1" y="59.6" font-size="6.9" textLength="23.46" lengthAdjust="spacingAndGlyphs" style="stroke-width:0.12px;fill:#262626">HAC−Q</text>
<line x1="628.2" y1="66.2" x2="642.6" y2="66.2" stroke="#0c0ce2" stroke-width="2.1"/>
<path d="M635.4 63.2L638.4 66.2L635.4 69.2L632.4 66.2Z" fill="#0c0ce2"/>
<text x="649.1" y="68.7" font-size="6.9" textLength="13.55" lengthAdjust="spacingAndGlyphs" style="stroke-width:0.12px;fill:#262626">GDK</text>
<line x1="628.2" y1="75.2" x2="642.6" y2="75.2" stroke="#ec1010" stroke-width="2.1"/>
<circle cx="635.4" cy="75.2" r="2.5" fill="#ec1010"/>
<text x="649.1" y="77.8" font-size="6.9" textLength="15.22" lengthAdjust="spacingAndGlyphs" style="stroke-width:0.12px;fill:#262626">CNM</text>
<line x1="628.2" y1="84.3" x2="642.6" y2="84.3" stroke="#111" stroke-width="2.1" stroke-dasharray="6.2 7.4"/>
<circle cx="642.3" cy="84.3" r="0.8" fill="#111"/>
<text x="649.1" y="86.8" font-size="6.9" textLength="21.78" lengthAdjust="spacingAndGlyphs" style="stroke-width:0.12px;fill:#262626">HAC−E</text>
<rect x="626.5" y="217.5" width="56.5" height="72.2" fill="#fff" stroke="#1e1e1e" stroke-width="1.1"/>
<line x1="628.2" y1="226.6" x2="642.6" y2="226.6" stroke="#111" stroke-width="2.1"/>
<circle cx="635.4" cy="226.6" r="2.4" fill="#111"/>
<text x="649.1" y="229.1" font-size="6.9" textLength="28.2" lengthAdjust="spacingAndGlyphs" style="stroke-width:0.12px;fill:#262626">HAC−ML</text>
<line x1="628.2" y1="235.7" x2="642.6" y2="235.7" stroke="#16c616" stroke-width="2.1"/>
<circle cx="635.4" cy="235.7" r="2.6" fill="#16c616"/>
<text x="649.1" y="238.2" font-size="6.9" textLength="14.24" lengthAdjust="spacingAndGlyphs" style="stroke-width:0.12px;fill:#262626">VBM</text>
<line x1="628.2" y1="244.7" x2="642.6" y2="244.7" stroke="#111" stroke-width="2.1"/>
<path d="M635.4 241.8L637.9 245.8L632.9 245.8Z" fill="#111"/>
<text x="649.1" y="247.2" font-size="6.9" textLength="26.16" lengthAdjust="spacingAndGlyphs" style="stroke-width:0.12px;fill:#262626">HAC−ES</text>
<line x1="628.2" y1="253.8" x2="642.6" y2="253.8" stroke="#111" stroke-width="2.1"/>
<rect x="633.8" y="252.2" width="3.2" height="3.2" fill="#111"/>
<text x="649.1" y="256.3" font-size="6.9" textLength="23.46" lengthAdjust="spacingAndGlyphs" style="stroke-width:0.12px;fill:#262626">HAC−Q</text>
<line x1="628.2" y1="262.9" x2="642.6" y2="262.9" stroke="#ec1010" stroke-width="2.1"/>
<circle cx="635.4" cy="262.9" r="2.5" fill="#ec1010"/>
<text x="649.1" y="265.4" font-size="6.9" textLength="15.22" lengthAdjust="spacingAndGlyphs" style="stroke-width:0.12px;fill:#262626">CNM</text>
<line x1="628.2" y1="271.9" x2="642.6" y2="271.9" stroke="#111" stroke-width="2.1" stroke-dasharray="6.2 7.4"/>
<circle cx="642.3" cy="271.9" r="0.8" fill="#111"/>
<text x="649.1" y="274.4" font-size="6.9" textLength="21.78" lengthAdjust="spacingAndGlyphs" style="stroke-width:0.12px;fill:#262626">HAC−E</text>
<line x1="628.2" y1="281" x2="642.6" y2="281" stroke="#0c0ce2" stroke-width="2.1"/>
<path d="M635.4 278L638.4 281L635.4 284L632.4 281Z" fill="#0c0ce2"/>
<text x="649.1" y="283.5" font-size="6.9" textLength="13.55" lengthAdjust="spacingAndGlyphs" style="stroke-width:0.12px;fill:#262626">GDK</text>
</svg></body></html>
